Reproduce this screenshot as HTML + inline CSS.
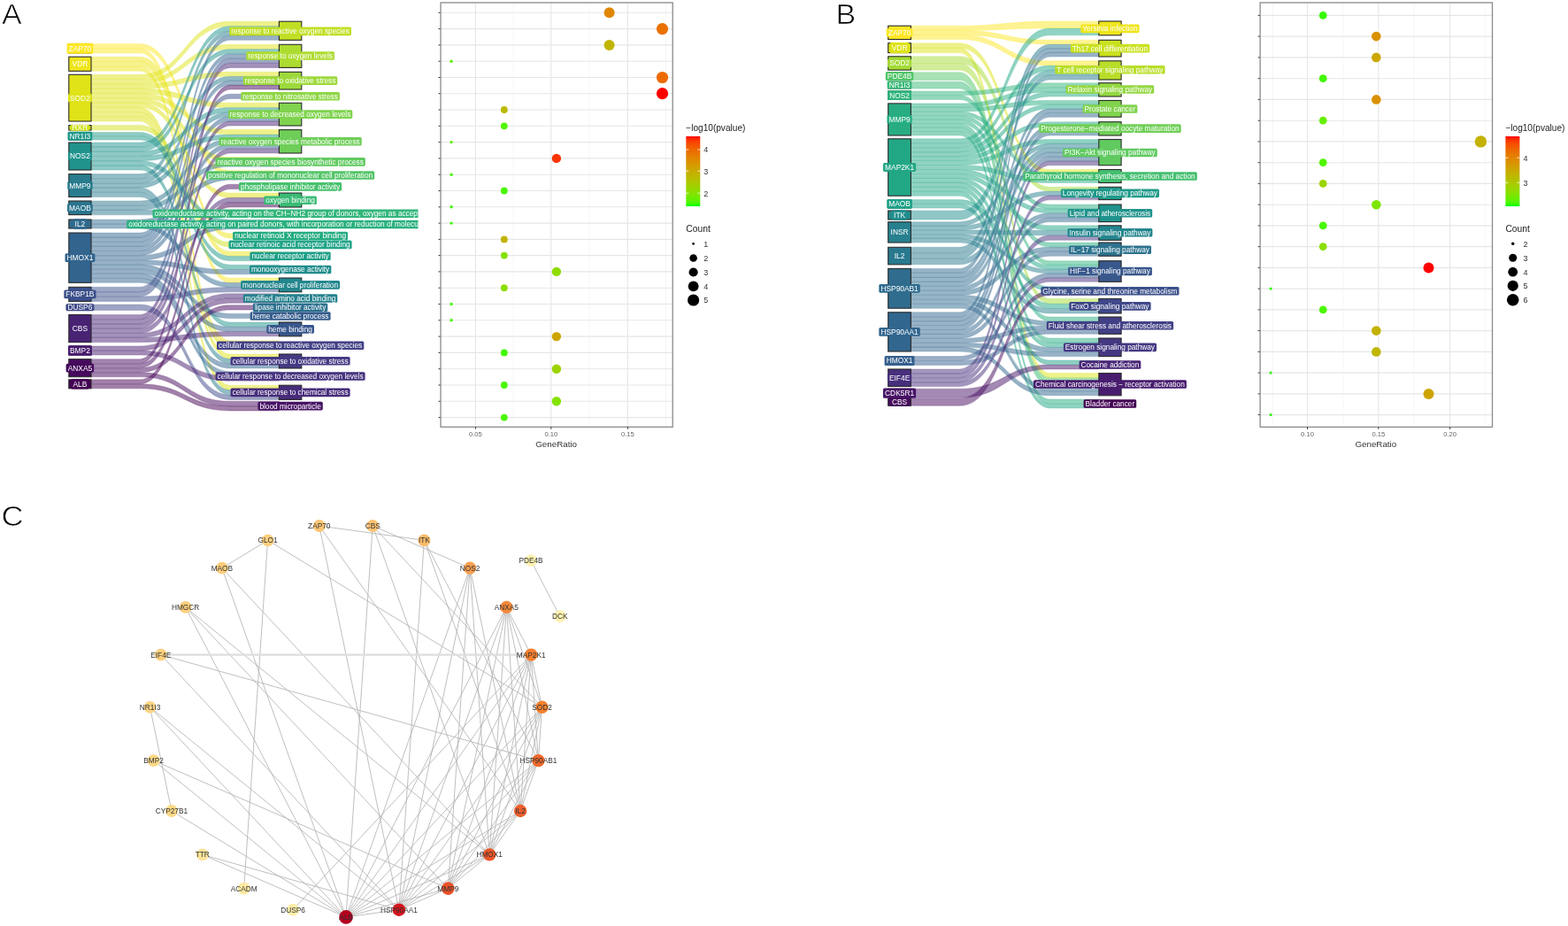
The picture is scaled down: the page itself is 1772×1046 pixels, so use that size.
<!DOCTYPE html><html><head><meta charset="utf-8"><style>html,body{margin:0;padding:0;background:#fff;overflow:hidden}svg{display:block}</style></head><body>
<svg width="1772" height="1046" viewBox="0 0 1772 1046" font-family="'Liberation Sans', Arial, sans-serif">
<rect width="1772" height="1046" fill="#fff"/>
<text transform="translate(2.0,27.0) scale(1.08,1)" font-size="31.5" fill="#000" stroke="#fff" stroke-width="0.7" paint-order="fill">A</text>
<text transform="translate(944.5,26.5) scale(1.08,1)" font-size="31.5" fill="#000" stroke="#fff" stroke-width="0.7" paint-order="fill">B</text>
<text transform="translate(1.6,593.9) scale(1.1,1)" font-size="31.5" fill="#000" stroke="#fff" stroke-width="0.7" paint-order="fill">C</text>
<g fill="none" stroke-opacity="0.28" stroke-width="1.1">
<path d="M103.0,49.50L158.2,49.50C209.2,49.50 209.2,192.70 260.2,192.70L315.4,192.70L315.4,198.00L260.2,198.00C209.2,198.00 209.2,54.75 158.2,54.75L103.0,54.75Z" stroke="#fde725"/>
<path d="M103.0,54.75L158.2,54.75C209.2,54.75 209.2,314.00 260.2,314.00L315.4,314.00L315.4,319.27L260.2,319.27C209.2,319.27 209.2,60.00 158.2,60.00L103.0,60.00Z" stroke="#fde725"/>
<path d="M103.0,64.20L158.2,64.20C209.2,64.20 209.2,263.90 260.2,263.90L315.4,263.90L315.4,269.10L260.2,269.10C209.2,269.10 209.2,69.57 158.2,69.57L103.0,69.57Z" stroke="#efe51c"/>
<path d="M103.0,69.57L158.2,69.57C209.2,69.57 209.2,284.00 260.2,284.00L315.4,284.00L315.4,289.30L260.2,289.30C209.2,289.30 209.2,74.93 158.2,74.93L103.0,74.93Z" stroke="#efe51c"/>
<path d="M103.0,74.93L158.2,74.93C209.2,74.93 209.2,384.90 260.2,384.90L315.4,384.90L315.4,390.20L260.2,390.20C209.2,390.20 209.2,80.30 158.2,80.30L103.0,80.30Z" stroke="#efe51c"/>
<path d="M103.0,84.30L158.2,84.30C209.2,84.30 209.2,24.20 260.2,24.20L315.4,24.20L315.4,29.47L260.2,29.47C209.2,29.47 209.2,89.57 158.2,89.57L103.0,89.57Z" stroke="#dfe318"/>
<path d="M103.0,89.57L158.2,89.57C209.2,89.57 209.2,50.30 260.2,50.30L315.4,50.30L315.4,55.52L260.2,55.52C209.2,55.52 209.2,94.84 158.2,94.84L103.0,94.84Z" stroke="#dfe318"/>
<path d="M103.0,94.84L158.2,94.84C209.2,94.84 209.2,81.30 260.2,81.30L315.4,81.30L315.4,86.22L260.2,86.22C209.2,86.22 209.2,100.11 158.2,100.11L103.0,100.11Z" stroke="#dfe318"/>
<path d="M103.0,100.11L158.2,100.11C209.2,100.11 209.2,116.30 260.2,116.30L315.4,116.30L315.4,121.44L260.2,121.44C209.2,121.44 209.2,105.38 158.2,105.38L103.0,105.38Z" stroke="#dfe318"/>
<path d="M103.0,105.38L158.2,105.38C209.2,105.38 209.2,146.60 260.2,146.60L315.4,146.60L315.4,151.88L260.2,151.88C209.2,151.88 209.2,110.65 158.2,110.65L103.0,110.65Z" stroke="#dfe318"/>
<path d="M103.0,110.65L158.2,110.65C209.2,110.65 209.2,177.60 260.2,177.60L315.4,177.60L315.4,182.90L260.2,182.90C209.2,182.90 209.2,115.92 158.2,115.92L103.0,115.92Z" stroke="#dfe318"/>
<path d="M103.0,115.92L158.2,115.92C209.2,115.92 209.2,218.00 260.2,218.00L315.4,218.00L315.4,223.33L260.2,223.33C209.2,223.33 209.2,121.19 158.2,121.19L103.0,121.19Z" stroke="#dfe318"/>
<path d="M103.0,121.19L158.2,121.19C209.2,121.19 209.2,390.20 260.2,390.20L315.4,390.20L315.4,395.50L260.2,395.50C209.2,395.50 209.2,126.46 158.2,126.46L103.0,126.46Z" stroke="#dfe318"/>
<path d="M103.0,126.46L158.2,126.46C209.2,126.46 209.2,400.00 260.2,400.00L315.4,400.00L315.4,405.33L260.2,405.33C209.2,405.33 209.2,131.73 158.2,131.73L103.0,131.73Z" stroke="#dfe318"/>
<path d="M103.0,131.73L158.2,131.73C209.2,131.73 209.2,435.20 260.2,435.20L315.4,435.20L315.4,440.60L260.2,440.60C209.2,440.60 209.2,137.00 158.2,137.00L103.0,137.00Z" stroke="#dfe318"/>
<path d="M103.0,141.50L158.2,141.50C209.2,141.50 209.2,273.80 260.2,273.80L315.4,273.80L315.4,279.00L260.2,279.00C209.2,279.00 209.2,147.00 158.2,147.00L103.0,147.00Z" stroke="#d0e11c"/>
<path d="M103.0,149.50L158.2,149.50C209.2,149.50 209.2,289.30 260.2,289.30L315.4,289.30L315.4,294.60L260.2,294.60C209.2,294.60 209.2,153.75 158.2,153.75L103.0,153.75Z" stroke="#1f998a"/>
<path d="M103.0,153.75L158.2,153.75C209.2,153.75 209.2,299.20 260.2,299.20L315.4,299.20L315.4,304.50L260.2,304.50C209.2,304.50 209.2,158.00 158.2,158.00L103.0,158.00Z" stroke="#1f998a"/>
<path d="M103.0,161.00L158.2,161.00C209.2,161.00 209.2,29.47 260.2,29.47L315.4,29.47L315.4,34.75L260.2,34.75C209.2,34.75 209.2,166.17 158.2,166.17L103.0,166.17Z" stroke="#20938c"/>
<path d="M103.0,166.17L158.2,166.17C209.2,166.17 209.2,55.52 260.2,55.52L315.4,55.52L315.4,60.74L260.2,60.74C209.2,60.74 209.2,171.33 158.2,171.33L103.0,171.33Z" stroke="#20938c"/>
<path d="M103.0,171.33L158.2,171.33C209.2,171.33 209.2,121.44 260.2,121.44L315.4,121.44L315.4,126.58L260.2,126.58C209.2,126.58 209.2,176.50 158.2,176.50L103.0,176.50Z" stroke="#20938c"/>
<path d="M103.0,176.50L158.2,176.50C209.2,176.50 209.2,151.88 260.2,151.88L315.4,151.88L315.4,157.16L260.2,157.16C209.2,157.16 209.2,181.67 158.2,181.67L103.0,181.67Z" stroke="#20938c"/>
<path d="M103.0,181.67L158.2,181.67C209.2,181.67 209.2,248.20 260.2,248.20L315.4,248.20L315.4,253.50L260.2,253.50C209.2,253.50 209.2,186.83 158.2,186.83L103.0,186.83Z" stroke="#20938c"/>
<path d="M103.0,186.83L158.2,186.83C209.2,186.83 209.2,364.00 260.2,364.00L315.4,364.00L315.4,369.27L260.2,369.27C209.2,369.27 209.2,192.00 158.2,192.00L103.0,192.00Z" stroke="#20938c"/>
<path d="M103.0,196.60L158.2,196.60C209.2,196.60 209.2,34.75 260.2,34.75L315.4,34.75L315.4,40.02L260.2,40.02C209.2,40.02 209.2,201.78 158.2,201.78L103.0,201.78Z" stroke="#287c8e"/>
<path d="M103.0,201.78L158.2,201.78C209.2,201.78 209.2,86.22 260.2,86.22L315.4,86.22L315.4,91.15L260.2,91.15C209.2,91.15 209.2,206.96 158.2,206.96L103.0,206.96Z" stroke="#287c8e"/>
<path d="M103.0,206.96L158.2,206.96C209.2,206.96 209.2,126.58 260.2,126.58L315.4,126.58L315.4,131.72L260.2,131.72C209.2,131.72 209.2,212.14 158.2,212.14L103.0,212.14Z" stroke="#287c8e"/>
<path d="M103.0,212.14L158.2,212.14C209.2,212.14 209.2,405.33 260.2,405.33L315.4,405.33L315.4,410.67L260.2,410.67C209.2,410.67 209.2,217.32 158.2,217.32L103.0,217.32Z" stroke="#287c8e"/>
<path d="M103.0,217.32L158.2,217.32C209.2,217.32 209.2,440.60 260.2,440.60L315.4,440.60L315.4,446.00L260.2,446.00C209.2,446.00 209.2,222.50 158.2,222.50L103.0,222.50Z" stroke="#287c8e"/>
<path d="M103.0,227.00L158.2,227.00C209.2,227.00 209.2,157.16 260.2,157.16L315.4,157.16L315.4,162.44L260.2,162.44C209.2,162.44 209.2,232.20 158.2,232.20L103.0,232.20Z" stroke="#2b758e"/>
<path d="M103.0,232.20L158.2,232.20C209.2,232.20 209.2,182.90 260.2,182.90L315.4,182.90L315.4,188.20L260.2,188.20C209.2,188.20 209.2,237.40 158.2,237.40L103.0,237.40Z" stroke="#2b758e"/>
<path d="M103.0,237.40L158.2,237.40C209.2,237.40 209.2,238.60 260.2,238.60L315.4,238.60L315.4,243.80L260.2,243.80C209.2,243.80 209.2,242.60 158.2,242.60L103.0,242.60Z" stroke="#2b758e"/>
<path d="M103.0,248.00L158.2,248.00C209.2,248.00 209.2,198.00 260.2,198.00L315.4,198.00L315.4,203.30L260.2,203.30C209.2,203.30 209.2,253.00 158.2,253.00L103.0,253.00Z" stroke="#306a8e"/>
<path d="M103.0,253.00L158.2,253.00C209.2,253.00 209.2,319.27 260.2,319.27L315.4,319.27L315.4,324.53L260.2,324.53C209.2,324.53 209.2,258.00 158.2,258.00L103.0,258.00Z" stroke="#306a8e"/>
<path d="M103.0,263.00L158.2,263.00C209.2,263.00 209.2,40.02 260.2,40.02L315.4,40.02L315.4,45.30L260.2,45.30C209.2,45.30 209.2,268.12 158.2,268.12L103.0,268.12Z" stroke="#32648e"/>
<path d="M103.0,268.12L158.2,268.12C209.2,268.12 209.2,60.74 260.2,60.74L315.4,60.74L315.4,65.96L260.2,65.96C209.2,65.96 209.2,273.24 158.2,273.24L103.0,273.24Z" stroke="#32648e"/>
<path d="M103.0,273.24L158.2,273.24C209.2,273.24 209.2,91.15 260.2,91.15L315.4,91.15L315.4,96.08L260.2,96.08C209.2,96.08 209.2,278.35 158.2,278.35L103.0,278.35Z" stroke="#32648e"/>
<path d="M103.0,278.35L158.2,278.35C209.2,278.35 209.2,131.72 260.2,131.72L315.4,131.72L315.4,136.86L260.2,136.86C209.2,136.86 209.2,283.47 158.2,283.47L103.0,283.47Z" stroke="#32648e"/>
<path d="M103.0,283.47L158.2,283.47C209.2,283.47 209.2,162.44 260.2,162.44L315.4,162.44L315.4,167.72L260.2,167.72C209.2,167.72 209.2,288.59 158.2,288.59L103.0,288.59Z" stroke="#32648e"/>
<path d="M103.0,288.59L158.2,288.59C209.2,288.59 209.2,253.50 260.2,253.50L315.4,253.50L315.4,258.80L260.2,258.80C209.2,258.80 209.2,293.71 158.2,293.71L103.0,293.71Z" stroke="#32648e"/>
<path d="M103.0,293.71L158.2,293.71C209.2,293.71 209.2,304.50 260.2,304.50L315.4,304.50L315.4,309.80L260.2,309.80C209.2,309.80 209.2,298.83 158.2,298.83L103.0,298.83Z" stroke="#32648e"/>
<path d="M103.0,298.83L158.2,298.83C209.2,298.83 209.2,354.40 260.2,354.40L315.4,354.40L315.4,359.60L260.2,359.60C209.2,359.60 209.2,303.95 158.2,303.95L103.0,303.95Z" stroke="#32648e"/>
<path d="M103.0,303.95L158.2,303.95C209.2,303.95 209.2,369.27 260.2,369.27L315.4,369.27L315.4,374.53L260.2,374.53C209.2,374.53 209.2,309.06 158.2,309.06L103.0,309.06Z" stroke="#32648e"/>
<path d="M103.0,309.06L158.2,309.06C209.2,309.06 209.2,410.67 260.2,410.67L315.4,410.67L315.4,416.00L260.2,416.00C209.2,416.00 209.2,314.18 158.2,314.18L103.0,314.18Z" stroke="#32648e"/>
<path d="M103.0,314.18L158.2,314.18C209.2,314.18 209.2,419.70 260.2,419.70L315.4,419.70L315.4,425.00L260.2,425.00C209.2,425.00 209.2,319.30 158.2,319.30L103.0,319.30Z" stroke="#32648e"/>
<path d="M103.0,324.30L158.2,324.30C209.2,324.30 209.2,65.96 260.2,65.96L315.4,65.96L315.4,71.18L260.2,71.18C209.2,71.18 209.2,329.67 158.2,329.67L103.0,329.67Z" stroke="#3c508b"/>
<path d="M103.0,329.67L158.2,329.67C209.2,329.67 209.2,106.20 260.2,106.20L315.4,106.20L315.4,111.40L260.2,111.40C209.2,111.40 209.2,335.03 158.2,335.03L103.0,335.03Z" stroke="#3c508b"/>
<path d="M103.0,335.03L158.2,335.03C209.2,335.03 209.2,324.53 260.2,324.53L315.4,324.53L315.4,329.80L260.2,329.80C209.2,329.80 209.2,340.40 158.2,340.40L103.0,340.40Z" stroke="#3c508b"/>
<path d="M103.0,344.00L158.2,344.00C209.2,344.00 209.2,446.00 260.2,446.00L315.4,446.00L315.4,451.40L260.2,451.40C209.2,451.40 209.2,350.50 158.2,350.50L103.0,350.50Z" stroke="#3e4989"/>
<path d="M103.0,355.50L158.2,355.50C209.2,355.50 209.2,71.18 260.2,71.18L315.4,71.18L315.4,76.40L260.2,76.40C209.2,76.40 209.2,360.68 158.2,360.68L103.0,360.68Z" stroke="#482374"/>
<path d="M103.0,360.68L158.2,360.68C209.2,360.68 209.2,136.86 260.2,136.86L315.4,136.86L315.4,142.00L260.2,142.00C209.2,142.00 209.2,365.87 158.2,365.87L103.0,365.87Z" stroke="#482374"/>
<path d="M103.0,365.87L158.2,365.87C209.2,365.87 209.2,167.72 260.2,167.72L315.4,167.72L315.4,173.00L260.2,173.00C209.2,173.00 209.2,371.05 158.2,371.05L103.0,371.05Z" stroke="#482374"/>
<path d="M103.0,371.05L158.2,371.05C209.2,371.05 209.2,223.33 260.2,223.33L315.4,223.33L315.4,228.67L260.2,228.67C209.2,228.67 209.2,376.23 158.2,376.23L103.0,376.23Z" stroke="#482374"/>
<path d="M103.0,376.23L158.2,376.23C209.2,376.23 209.2,331.70 260.2,331.70L315.4,331.70L315.4,337.00L260.2,337.00C209.2,337.00 209.2,381.42 158.2,381.42L103.0,381.42Z" stroke="#482374"/>
<path d="M103.0,381.42L158.2,381.42C209.2,381.42 209.2,374.53 260.2,374.53L315.4,374.53L315.4,379.80L260.2,379.80C209.2,379.80 209.2,386.60 158.2,386.60L103.0,386.60Z" stroke="#482374"/>
<path d="M103.0,391.00L158.2,391.00C209.2,391.00 209.2,337.00 260.2,337.00L315.4,337.00L315.4,342.30L260.2,342.30C209.2,342.30 209.2,396.00 158.2,396.00L103.0,396.00Z" stroke="#481b6d"/>
<path d="M103.0,396.00L158.2,396.00C209.2,396.00 209.2,425.00 260.2,425.00L315.4,425.00L315.4,430.30L260.2,430.30C209.2,430.30 209.2,401.00 158.2,401.00L103.0,401.00Z" stroke="#481b6d"/>
<path d="M103.0,405.70L158.2,405.70C209.2,405.70 209.2,96.08 260.2,96.08L315.4,96.08L315.4,101.00L260.2,101.00C209.2,101.00 209.2,410.70 158.2,410.70L103.0,410.70Z" stroke="#460a5d"/>
<path d="M103.0,410.70L158.2,410.70C209.2,410.70 209.2,208.30 260.2,208.30L315.4,208.30L315.4,213.50L260.2,213.50C209.2,213.50 209.2,415.70 158.2,415.70L103.0,415.70Z" stroke="#460a5d"/>
<path d="M103.0,415.70L158.2,415.70C209.2,415.70 209.2,344.70 260.2,344.70L315.4,344.70L315.4,349.90L260.2,349.90C209.2,349.90 209.2,420.70 158.2,420.70L103.0,420.70Z" stroke="#460a5d"/>
<path d="M103.0,420.70L158.2,420.70C209.2,420.70 209.2,453.30 260.2,453.30L315.4,453.30L315.4,458.60L260.2,458.60C209.2,458.60 209.2,425.70 158.2,425.70L103.0,425.70Z" stroke="#460a5d"/>
<path d="M103.0,428.80L158.2,428.80C209.2,428.80 209.2,228.67 260.2,228.67L315.4,228.67L315.4,234.00L260.2,234.00C209.2,234.00 209.2,433.80 158.2,433.80L103.0,433.80Z" stroke="#440154"/>
<path d="M103.0,433.80L158.2,433.80C209.2,433.80 209.2,458.60 260.2,458.60L315.4,458.60L315.4,463.90L260.2,463.90C209.2,463.90 209.2,438.80 158.2,438.80L103.0,438.80Z" stroke="#440154"/>
</g><g stroke="#fff" stroke-opacity="0.3" stroke-width="0.35">
<path d="M103.0,49.50L158.2,49.50C209.2,49.50 209.2,192.70 260.2,192.70L315.4,192.70L315.4,198.00L260.2,198.00C209.2,198.00 209.2,54.75 158.2,54.75L103.0,54.75Z" fill="#fde725" fill-opacity="0.5"/>
<path d="M103.0,54.75L158.2,54.75C209.2,54.75 209.2,314.00 260.2,314.00L315.4,314.00L315.4,319.27L260.2,319.27C209.2,319.27 209.2,60.00 158.2,60.00L103.0,60.00Z" fill="#fde725" fill-opacity="0.5"/>
<path d="M103.0,64.20L158.2,64.20C209.2,64.20 209.2,263.90 260.2,263.90L315.4,263.90L315.4,269.10L260.2,269.10C209.2,269.10 209.2,69.57 158.2,69.57L103.0,69.57Z" fill="#efe51c" fill-opacity="0.5"/>
<path d="M103.0,69.57L158.2,69.57C209.2,69.57 209.2,284.00 260.2,284.00L315.4,284.00L315.4,289.30L260.2,289.30C209.2,289.30 209.2,74.93 158.2,74.93L103.0,74.93Z" fill="#efe51c" fill-opacity="0.5"/>
<path d="M103.0,74.93L158.2,74.93C209.2,74.93 209.2,384.90 260.2,384.90L315.4,384.90L315.4,390.20L260.2,390.20C209.2,390.20 209.2,80.30 158.2,80.30L103.0,80.30Z" fill="#efe51c" fill-opacity="0.5"/>
<path d="M103.0,84.30L158.2,84.30C209.2,84.30 209.2,24.20 260.2,24.20L315.4,24.20L315.4,29.47L260.2,29.47C209.2,29.47 209.2,89.57 158.2,89.57L103.0,89.57Z" fill="#dfe318" fill-opacity="0.5"/>
<path d="M103.0,89.57L158.2,89.57C209.2,89.57 209.2,50.30 260.2,50.30L315.4,50.30L315.4,55.52L260.2,55.52C209.2,55.52 209.2,94.84 158.2,94.84L103.0,94.84Z" fill="#dfe318" fill-opacity="0.5"/>
<path d="M103.0,94.84L158.2,94.84C209.2,94.84 209.2,81.30 260.2,81.30L315.4,81.30L315.4,86.22L260.2,86.22C209.2,86.22 209.2,100.11 158.2,100.11L103.0,100.11Z" fill="#dfe318" fill-opacity="0.5"/>
<path d="M103.0,100.11L158.2,100.11C209.2,100.11 209.2,116.30 260.2,116.30L315.4,116.30L315.4,121.44L260.2,121.44C209.2,121.44 209.2,105.38 158.2,105.38L103.0,105.38Z" fill="#dfe318" fill-opacity="0.5"/>
<path d="M103.0,105.38L158.2,105.38C209.2,105.38 209.2,146.60 260.2,146.60L315.4,146.60L315.4,151.88L260.2,151.88C209.2,151.88 209.2,110.65 158.2,110.65L103.0,110.65Z" fill="#dfe318" fill-opacity="0.5"/>
<path d="M103.0,110.65L158.2,110.65C209.2,110.65 209.2,177.60 260.2,177.60L315.4,177.60L315.4,182.90L260.2,182.90C209.2,182.90 209.2,115.92 158.2,115.92L103.0,115.92Z" fill="#dfe318" fill-opacity="0.5"/>
<path d="M103.0,115.92L158.2,115.92C209.2,115.92 209.2,218.00 260.2,218.00L315.4,218.00L315.4,223.33L260.2,223.33C209.2,223.33 209.2,121.19 158.2,121.19L103.0,121.19Z" fill="#dfe318" fill-opacity="0.5"/>
<path d="M103.0,121.19L158.2,121.19C209.2,121.19 209.2,390.20 260.2,390.20L315.4,390.20L315.4,395.50L260.2,395.50C209.2,395.50 209.2,126.46 158.2,126.46L103.0,126.46Z" fill="#dfe318" fill-opacity="0.5"/>
<path d="M103.0,126.46L158.2,126.46C209.2,126.46 209.2,400.00 260.2,400.00L315.4,400.00L315.4,405.33L260.2,405.33C209.2,405.33 209.2,131.73 158.2,131.73L103.0,131.73Z" fill="#dfe318" fill-opacity="0.5"/>
<path d="M103.0,131.73L158.2,131.73C209.2,131.73 209.2,435.20 260.2,435.20L315.4,435.20L315.4,440.60L260.2,440.60C209.2,440.60 209.2,137.00 158.2,137.00L103.0,137.00Z" fill="#dfe318" fill-opacity="0.5"/>
<path d="M103.0,141.50L158.2,141.50C209.2,141.50 209.2,273.80 260.2,273.80L315.4,273.80L315.4,279.00L260.2,279.00C209.2,279.00 209.2,147.00 158.2,147.00L103.0,147.00Z" fill="#d0e11c" fill-opacity="0.5"/>
<path d="M103.0,149.50L158.2,149.50C209.2,149.50 209.2,289.30 260.2,289.30L315.4,289.30L315.4,294.60L260.2,294.60C209.2,294.60 209.2,153.75 158.2,153.75L103.0,153.75Z" fill="#1f998a" fill-opacity="0.5"/>
<path d="M103.0,153.75L158.2,153.75C209.2,153.75 209.2,299.20 260.2,299.20L315.4,299.20L315.4,304.50L260.2,304.50C209.2,304.50 209.2,158.00 158.2,158.00L103.0,158.00Z" fill="#1f998a" fill-opacity="0.5"/>
<path d="M103.0,161.00L158.2,161.00C209.2,161.00 209.2,29.47 260.2,29.47L315.4,29.47L315.4,34.75L260.2,34.75C209.2,34.75 209.2,166.17 158.2,166.17L103.0,166.17Z" fill="#20938c" fill-opacity="0.5"/>
<path d="M103.0,166.17L158.2,166.17C209.2,166.17 209.2,55.52 260.2,55.52L315.4,55.52L315.4,60.74L260.2,60.74C209.2,60.74 209.2,171.33 158.2,171.33L103.0,171.33Z" fill="#20938c" fill-opacity="0.5"/>
<path d="M103.0,171.33L158.2,171.33C209.2,171.33 209.2,121.44 260.2,121.44L315.4,121.44L315.4,126.58L260.2,126.58C209.2,126.58 209.2,176.50 158.2,176.50L103.0,176.50Z" fill="#20938c" fill-opacity="0.5"/>
<path d="M103.0,176.50L158.2,176.50C209.2,176.50 209.2,151.88 260.2,151.88L315.4,151.88L315.4,157.16L260.2,157.16C209.2,157.16 209.2,181.67 158.2,181.67L103.0,181.67Z" fill="#20938c" fill-opacity="0.5"/>
<path d="M103.0,181.67L158.2,181.67C209.2,181.67 209.2,248.20 260.2,248.20L315.4,248.20L315.4,253.50L260.2,253.50C209.2,253.50 209.2,186.83 158.2,186.83L103.0,186.83Z" fill="#20938c" fill-opacity="0.5"/>
<path d="M103.0,186.83L158.2,186.83C209.2,186.83 209.2,364.00 260.2,364.00L315.4,364.00L315.4,369.27L260.2,369.27C209.2,369.27 209.2,192.00 158.2,192.00L103.0,192.00Z" fill="#20938c" fill-opacity="0.5"/>
<path d="M103.0,196.60L158.2,196.60C209.2,196.60 209.2,34.75 260.2,34.75L315.4,34.75L315.4,40.02L260.2,40.02C209.2,40.02 209.2,201.78 158.2,201.78L103.0,201.78Z" fill="#287c8e" fill-opacity="0.5"/>
<path d="M103.0,201.78L158.2,201.78C209.2,201.78 209.2,86.22 260.2,86.22L315.4,86.22L315.4,91.15L260.2,91.15C209.2,91.15 209.2,206.96 158.2,206.96L103.0,206.96Z" fill="#287c8e" fill-opacity="0.5"/>
<path d="M103.0,206.96L158.2,206.96C209.2,206.96 209.2,126.58 260.2,126.58L315.4,126.58L315.4,131.72L260.2,131.72C209.2,131.72 209.2,212.14 158.2,212.14L103.0,212.14Z" fill="#287c8e" fill-opacity="0.5"/>
<path d="M103.0,212.14L158.2,212.14C209.2,212.14 209.2,405.33 260.2,405.33L315.4,405.33L315.4,410.67L260.2,410.67C209.2,410.67 209.2,217.32 158.2,217.32L103.0,217.32Z" fill="#287c8e" fill-opacity="0.5"/>
<path d="M103.0,217.32L158.2,217.32C209.2,217.32 209.2,440.60 260.2,440.60L315.4,440.60L315.4,446.00L260.2,446.00C209.2,446.00 209.2,222.50 158.2,222.50L103.0,222.50Z" fill="#287c8e" fill-opacity="0.5"/>
<path d="M103.0,227.00L158.2,227.00C209.2,227.00 209.2,157.16 260.2,157.16L315.4,157.16L315.4,162.44L260.2,162.44C209.2,162.44 209.2,232.20 158.2,232.20L103.0,232.20Z" fill="#2b758e" fill-opacity="0.5"/>
<path d="M103.0,232.20L158.2,232.20C209.2,232.20 209.2,182.90 260.2,182.90L315.4,182.90L315.4,188.20L260.2,188.20C209.2,188.20 209.2,237.40 158.2,237.40L103.0,237.40Z" fill="#2b758e" fill-opacity="0.5"/>
<path d="M103.0,237.40L158.2,237.40C209.2,237.40 209.2,238.60 260.2,238.60L315.4,238.60L315.4,243.80L260.2,243.80C209.2,243.80 209.2,242.60 158.2,242.60L103.0,242.60Z" fill="#2b758e" fill-opacity="0.5"/>
<path d="M103.0,248.00L158.2,248.00C209.2,248.00 209.2,198.00 260.2,198.00L315.4,198.00L315.4,203.30L260.2,203.30C209.2,203.30 209.2,253.00 158.2,253.00L103.0,253.00Z" fill="#306a8e" fill-opacity="0.5"/>
<path d="M103.0,253.00L158.2,253.00C209.2,253.00 209.2,319.27 260.2,319.27L315.4,319.27L315.4,324.53L260.2,324.53C209.2,324.53 209.2,258.00 158.2,258.00L103.0,258.00Z" fill="#306a8e" fill-opacity="0.5"/>
<path d="M103.0,263.00L158.2,263.00C209.2,263.00 209.2,40.02 260.2,40.02L315.4,40.02L315.4,45.30L260.2,45.30C209.2,45.30 209.2,268.12 158.2,268.12L103.0,268.12Z" fill="#32648e" fill-opacity="0.5"/>
<path d="M103.0,268.12L158.2,268.12C209.2,268.12 209.2,60.74 260.2,60.74L315.4,60.74L315.4,65.96L260.2,65.96C209.2,65.96 209.2,273.24 158.2,273.24L103.0,273.24Z" fill="#32648e" fill-opacity="0.5"/>
<path d="M103.0,273.24L158.2,273.24C209.2,273.24 209.2,91.15 260.2,91.15L315.4,91.15L315.4,96.08L260.2,96.08C209.2,96.08 209.2,278.35 158.2,278.35L103.0,278.35Z" fill="#32648e" fill-opacity="0.5"/>
<path d="M103.0,278.35L158.2,278.35C209.2,278.35 209.2,131.72 260.2,131.72L315.4,131.72L315.4,136.86L260.2,136.86C209.2,136.86 209.2,283.47 158.2,283.47L103.0,283.47Z" fill="#32648e" fill-opacity="0.5"/>
<path d="M103.0,283.47L158.2,283.47C209.2,283.47 209.2,162.44 260.2,162.44L315.4,162.44L315.4,167.72L260.2,167.72C209.2,167.72 209.2,288.59 158.2,288.59L103.0,288.59Z" fill="#32648e" fill-opacity="0.5"/>
<path d="M103.0,288.59L158.2,288.59C209.2,288.59 209.2,253.50 260.2,253.50L315.4,253.50L315.4,258.80L260.2,258.80C209.2,258.80 209.2,293.71 158.2,293.71L103.0,293.71Z" fill="#32648e" fill-opacity="0.5"/>
<path d="M103.0,293.71L158.2,293.71C209.2,293.71 209.2,304.50 260.2,304.50L315.4,304.50L315.4,309.80L260.2,309.80C209.2,309.80 209.2,298.83 158.2,298.83L103.0,298.83Z" fill="#32648e" fill-opacity="0.5"/>
<path d="M103.0,298.83L158.2,298.83C209.2,298.83 209.2,354.40 260.2,354.40L315.4,354.40L315.4,359.60L260.2,359.60C209.2,359.60 209.2,303.95 158.2,303.95L103.0,303.95Z" fill="#32648e" fill-opacity="0.5"/>
<path d="M103.0,303.95L158.2,303.95C209.2,303.95 209.2,369.27 260.2,369.27L315.4,369.27L315.4,374.53L260.2,374.53C209.2,374.53 209.2,309.06 158.2,309.06L103.0,309.06Z" fill="#32648e" fill-opacity="0.5"/>
<path d="M103.0,309.06L158.2,309.06C209.2,309.06 209.2,410.67 260.2,410.67L315.4,410.67L315.4,416.00L260.2,416.00C209.2,416.00 209.2,314.18 158.2,314.18L103.0,314.18Z" fill="#32648e" fill-opacity="0.5"/>
<path d="M103.0,314.18L158.2,314.18C209.2,314.18 209.2,419.70 260.2,419.70L315.4,419.70L315.4,425.00L260.2,425.00C209.2,425.00 209.2,319.30 158.2,319.30L103.0,319.30Z" fill="#32648e" fill-opacity="0.5"/>
<path d="M103.0,324.30L158.2,324.30C209.2,324.30 209.2,65.96 260.2,65.96L315.4,65.96L315.4,71.18L260.2,71.18C209.2,71.18 209.2,329.67 158.2,329.67L103.0,329.67Z" fill="#3c508b" fill-opacity="0.5"/>
<path d="M103.0,329.67L158.2,329.67C209.2,329.67 209.2,106.20 260.2,106.20L315.4,106.20L315.4,111.40L260.2,111.40C209.2,111.40 209.2,335.03 158.2,335.03L103.0,335.03Z" fill="#3c508b" fill-opacity="0.5"/>
<path d="M103.0,335.03L158.2,335.03C209.2,335.03 209.2,324.53 260.2,324.53L315.4,324.53L315.4,329.80L260.2,329.80C209.2,329.80 209.2,340.40 158.2,340.40L103.0,340.40Z" fill="#3c508b" fill-opacity="0.5"/>
<path d="M103.0,344.00L158.2,344.00C209.2,344.00 209.2,446.00 260.2,446.00L315.4,446.00L315.4,451.40L260.2,451.40C209.2,451.40 209.2,350.50 158.2,350.50L103.0,350.50Z" fill="#3e4989" fill-opacity="0.5"/>
<path d="M103.0,355.50L158.2,355.50C209.2,355.50 209.2,71.18 260.2,71.18L315.4,71.18L315.4,76.40L260.2,76.40C209.2,76.40 209.2,360.68 158.2,360.68L103.0,360.68Z" fill="#482374" fill-opacity="0.5"/>
<path d="M103.0,360.68L158.2,360.68C209.2,360.68 209.2,136.86 260.2,136.86L315.4,136.86L315.4,142.00L260.2,142.00C209.2,142.00 209.2,365.87 158.2,365.87L103.0,365.87Z" fill="#482374" fill-opacity="0.5"/>
<path d="M103.0,365.87L158.2,365.87C209.2,365.87 209.2,167.72 260.2,167.72L315.4,167.72L315.4,173.00L260.2,173.00C209.2,173.00 209.2,371.05 158.2,371.05L103.0,371.05Z" fill="#482374" fill-opacity="0.5"/>
<path d="M103.0,371.05L158.2,371.05C209.2,371.05 209.2,223.33 260.2,223.33L315.4,223.33L315.4,228.67L260.2,228.67C209.2,228.67 209.2,376.23 158.2,376.23L103.0,376.23Z" fill="#482374" fill-opacity="0.5"/>
<path d="M103.0,376.23L158.2,376.23C209.2,376.23 209.2,331.70 260.2,331.70L315.4,331.70L315.4,337.00L260.2,337.00C209.2,337.00 209.2,381.42 158.2,381.42L103.0,381.42Z" fill="#482374" fill-opacity="0.5"/>
<path d="M103.0,381.42L158.2,381.42C209.2,381.42 209.2,374.53 260.2,374.53L315.4,374.53L315.4,379.80L260.2,379.80C209.2,379.80 209.2,386.60 158.2,386.60L103.0,386.60Z" fill="#482374" fill-opacity="0.5"/>
<path d="M103.0,391.00L158.2,391.00C209.2,391.00 209.2,337.00 260.2,337.00L315.4,337.00L315.4,342.30L260.2,342.30C209.2,342.30 209.2,396.00 158.2,396.00L103.0,396.00Z" fill="#481b6d" fill-opacity="0.5"/>
<path d="M103.0,396.00L158.2,396.00C209.2,396.00 209.2,425.00 260.2,425.00L315.4,425.00L315.4,430.30L260.2,430.30C209.2,430.30 209.2,401.00 158.2,401.00L103.0,401.00Z" fill="#481b6d" fill-opacity="0.5"/>
<path d="M103.0,405.70L158.2,405.70C209.2,405.70 209.2,96.08 260.2,96.08L315.4,96.08L315.4,101.00L260.2,101.00C209.2,101.00 209.2,410.70 158.2,410.70L103.0,410.70Z" fill="#460a5d" fill-opacity="0.5"/>
<path d="M103.0,410.70L158.2,410.70C209.2,410.70 209.2,208.30 260.2,208.30L315.4,208.30L315.4,213.50L260.2,213.50C209.2,213.50 209.2,415.70 158.2,415.70L103.0,415.70Z" fill="#460a5d" fill-opacity="0.5"/>
<path d="M103.0,415.70L158.2,415.70C209.2,415.70 209.2,344.70 260.2,344.70L315.4,344.70L315.4,349.90L260.2,349.90C209.2,349.90 209.2,420.70 158.2,420.70L103.0,420.70Z" fill="#460a5d" fill-opacity="0.5"/>
<path d="M103.0,420.70L158.2,420.70C209.2,420.70 209.2,453.30 260.2,453.30L315.4,453.30L315.4,458.60L260.2,458.60C209.2,458.60 209.2,425.70 158.2,425.70L103.0,425.70Z" fill="#460a5d" fill-opacity="0.5"/>
<path d="M103.0,428.80L158.2,428.80C209.2,428.80 209.2,228.67 260.2,228.67L315.4,228.67L315.4,234.00L260.2,234.00C209.2,234.00 209.2,433.80 158.2,433.80L103.0,433.80Z" fill="#440154" fill-opacity="0.5"/>
<path d="M103.0,433.80L158.2,433.80C209.2,433.80 209.2,458.60 260.2,458.60L315.4,458.60L315.4,463.90L260.2,463.90C209.2,463.90 209.2,438.80 158.2,438.80L103.0,438.80Z" fill="#440154" fill-opacity="0.5"/>
</g>
<rect x="77.8" y="49.5" width="25.200000000000003" height="10.5" fill="#fde725" stroke="#2b2b2b" stroke-width="1.1"/>
<rect x="77.8" y="64.2" width="25.200000000000003" height="16.1" fill="#efe51c" stroke="#2b2b2b" stroke-width="1.1"/>
<rect x="77.8" y="84.3" width="25.200000000000003" height="52.7" fill="#dfe318" stroke="#2b2b2b" stroke-width="1.1"/>
<rect x="77.8" y="141.5" width="25.200000000000003" height="5.5" fill="#d0e11c" stroke="#2b2b2b" stroke-width="1.1"/>
<rect x="77.8" y="149.5" width="25.200000000000003" height="8.5" fill="#1f998a" stroke="#2b2b2b" stroke-width="1.1"/>
<rect x="77.8" y="161.0" width="25.200000000000003" height="31.0" fill="#20938c" stroke="#2b2b2b" stroke-width="1.1"/>
<rect x="77.8" y="196.6" width="25.200000000000003" height="25.9" fill="#287c8e" stroke="#2b2b2b" stroke-width="1.1"/>
<rect x="77.8" y="227.0" width="25.200000000000003" height="15.6" fill="#2b758e" stroke="#2b2b2b" stroke-width="1.1"/>
<rect x="77.8" y="248.0" width="25.200000000000003" height="10.0" fill="#306a8e" stroke="#2b2b2b" stroke-width="1.1"/>
<rect x="77.8" y="263.0" width="25.200000000000003" height="56.3" fill="#32648e" stroke="#2b2b2b" stroke-width="1.1"/>
<rect x="77.8" y="324.3" width="25.200000000000003" height="16.1" fill="#3c508b" stroke="#2b2b2b" stroke-width="1.1"/>
<rect x="77.8" y="344.0" width="25.200000000000003" height="6.5" fill="#3e4989" stroke="#2b2b2b" stroke-width="1.1"/>
<rect x="77.8" y="355.5" width="25.200000000000003" height="31.1" fill="#482374" stroke="#2b2b2b" stroke-width="1.1"/>
<rect x="77.8" y="391.0" width="25.200000000000003" height="10.0" fill="#481b6d" stroke="#2b2b2b" stroke-width="1.1"/>
<rect x="77.8" y="405.7" width="25.200000000000003" height="20.0" fill="#460a5d" stroke="#2b2b2b" stroke-width="1.1"/>
<rect x="77.8" y="428.8" width="25.200000000000003" height="10.0" fill="#440154" stroke="#2b2b2b" stroke-width="1.1"/>
<rect x="315.4" y="24.2" width="25.400000000000034" height="21.1" fill="#c0df25" stroke="#2b2b2b" stroke-width="1.1"/>
<rect x="315.4" y="50.3" width="25.400000000000034" height="26.1" fill="#addc30" stroke="#2b2b2b" stroke-width="1.1"/>
<rect x="315.4" y="81.3" width="25.400000000000034" height="19.7" fill="#9dd93b" stroke="#2b2b2b" stroke-width="1.1"/>
<rect x="315.4" y="105.2" width="25.400000000000034" height="7.2" fill="#8ed645" stroke="#2b2b2b" stroke-width="1.1"/>
<rect x="315.4" y="116.3" width="25.400000000000034" height="25.7" fill="#7fd34e" stroke="#2b2b2b" stroke-width="1.1"/>
<rect x="315.4" y="146.6" width="25.400000000000034" height="26.4" fill="#6ece58" stroke="#2b2b2b" stroke-width="1.1"/>
<rect x="315.4" y="179.3" width="25.400000000000034" height="7.2" fill="#60ca60" stroke="#2b2b2b" stroke-width="1.1"/>
<rect x="315.4" y="194.4" width="25.400000000000034" height="7.2" fill="#54c568" stroke="#2b2b2b" stroke-width="1.1"/>
<rect x="315.4" y="207.3" width="25.400000000000034" height="7.2" fill="#48c16e" stroke="#2b2b2b" stroke-width="1.1"/>
<rect x="315.4" y="218.0" width="25.400000000000034" height="16.0" fill="#3bbb75" stroke="#2b2b2b" stroke-width="1.1"/>
<rect x="315.4" y="237.6" width="25.400000000000034" height="7.2" fill="#32b67a" stroke="#2b2b2b" stroke-width="1.1"/>
<rect x="315.4" y="249.9" width="25.400000000000034" height="7.2" fill="#2ab07f" stroke="#2b2b2b" stroke-width="1.1"/>
<rect x="315.4" y="262.9" width="25.400000000000034" height="7.2" fill="#25ab82" stroke="#2b2b2b" stroke-width="1.1"/>
<rect x="315.4" y="272.8" width="25.400000000000034" height="7.2" fill="#20a486" stroke="#2b2b2b" stroke-width="1.1"/>
<rect x="315.4" y="285.7" width="25.400000000000034" height="7.2" fill="#1f9f88" stroke="#2b2b2b" stroke-width="1.1"/>
<rect x="315.4" y="300.9" width="25.400000000000034" height="7.2" fill="#228d8d" stroke="#2b2b2b" stroke-width="1.1"/>
<rect x="315.4" y="314.0" width="25.400000000000034" height="15.8" fill="#24878e" stroke="#2b2b2b" stroke-width="1.1"/>
<rect x="315.4" y="333.4" width="25.400000000000034" height="7.2" fill="#26828e" stroke="#2b2b2b" stroke-width="1.1"/>
<rect x="315.4" y="343.7" width="25.400000000000034" height="7.2" fill="#2d708e" stroke="#2b2b2b" stroke-width="1.1"/>
<rect x="315.4" y="353.4" width="25.400000000000034" height="7.2" fill="#365d8d" stroke="#2b2b2b" stroke-width="1.1"/>
<rect x="315.4" y="364.0" width="25.400000000000034" height="15.8" fill="#39568c" stroke="#2b2b2b" stroke-width="1.1"/>
<rect x="315.4" y="386.6" width="25.400000000000034" height="7.2" fill="#424186" stroke="#2b2b2b" stroke-width="1.1"/>
<rect x="315.4" y="400.0" width="25.400000000000034" height="16.0" fill="#443a83" stroke="#2b2b2b" stroke-width="1.1"/>
<rect x="315.4" y="421.4" width="25.400000000000034" height="7.2" fill="#46337f" stroke="#2b2b2b" stroke-width="1.1"/>
<rect x="315.4" y="435.2" width="25.400000000000034" height="16.2" fill="#472c7a" stroke="#2b2b2b" stroke-width="1.1"/>
<rect x="315.4" y="455.0" width="25.400000000000034" height="7.2" fill="#471365" stroke="#2b2b2b" stroke-width="1.1"/>
<rect x="75.6" y="48.8" width="29.7" height="11.9" rx="1.6" fill="#fde725"/>
<text x="90.4" y="57.7" font-size="8.4" fill="#fff" text-anchor="middle">ZAP70</text>
<rect x="79.5" y="67.3" width="21.7" height="9.8" rx="1.6" fill="#efe51c"/>
<text x="90.4" y="75.2" font-size="8.4" fill="#fff" text-anchor="middle">VDR</text>
<rect x="77.0" y="105.8" width="26.9" height="9.8" rx="1.6" fill="#dfe318"/>
<text x="90.4" y="113.6" font-size="8.4" fill="#fff" text-anchor="middle">SOD2</text>
<rect x="79.5" y="140.8" width="21.7" height="6.9" rx="1.6" fill="#d0e11c"/>
<text x="90.4" y="147.2" font-size="8.4" fill="#fff" text-anchor="middle">RXR</text>
<rect x="76.5" y="148.8" width="27.8" height="9.9" rx="1.6" fill="#1f998a"/>
<text x="90.4" y="156.7" font-size="8.4" fill="#fff" text-anchor="middle">NR1I3</text>
<rect x="77.0" y="171.6" width="26.9" height="9.8" rx="1.6" fill="#20938c"/>
<text x="90.4" y="179.4" font-size="8.4" fill="#fff" text-anchor="middle">NOS2</text>
<rect x="76.3" y="204.7" width="28.3" height="9.8" rx="1.6" fill="#287c8e"/>
<text x="90.4" y="212.5" font-size="8.4" fill="#fff" text-anchor="middle">MMP9</text>
<rect x="76.0" y="229.9" width="28.7" height="9.8" rx="1.6" fill="#2b758e"/>
<text x="90.4" y="237.7" font-size="8.4" fill="#fff" text-anchor="middle">MAOB</text>
<rect x="82.6" y="247.3" width="15.7" height="11.4" rx="1.6" fill="#306a8e"/>
<text x="90.4" y="255.9" font-size="8.4" fill="#fff" text-anchor="middle">IL2</text>
<rect x="73.5" y="286.2" width="33.9" height="9.8" rx="1.6" fill="#32648e"/>
<text x="90.4" y="294.1" font-size="8.4" fill="#fff" text-anchor="middle">HMOX1</text>
<rect x="72.3" y="327.5" width="36.2" height="9.8" rx="1.6" fill="#3c508b"/>
<text x="90.4" y="335.3" font-size="8.4" fill="#fff" text-anchor="middle">FKBP1B</text>
<rect x="74.4" y="343.3" width="32.0" height="7.9" rx="1.6" fill="#3e4989"/>
<text x="90.4" y="350.2" font-size="8.4" fill="#fff" text-anchor="middle">DUSP6</text>
<rect x="79.8" y="366.2" width="21.3" height="9.8" rx="1.6" fill="#482374"/>
<text x="90.4" y="374.0" font-size="8.4" fill="#fff" text-anchor="middle">CBS</text>
<rect x="77.0" y="390.3" width="26.9" height="11.4" rx="1.6" fill="#481b6d"/>
<text x="90.4" y="398.9" font-size="8.4" fill="#fff" text-anchor="middle">BMP2</text>
<rect x="74.6" y="410.8" width="31.5" height="9.8" rx="1.6" fill="#460a5d"/>
<text x="90.4" y="418.6" font-size="8.4" fill="#fff" text-anchor="middle">ANXA5</text>
<rect x="80.5" y="428.1" width="19.9" height="11.4" rx="1.6" fill="#440154"/>
<text x="90.4" y="436.7" font-size="8.4" fill="#fff" text-anchor="middle">ALB</text>
<clipPath id="clipA"><rect x="0" y="0" width="472.5" height="1046"/></clipPath><g clip-path="url(#clipA)">
<rect x="259.2" y="30.6" width="137.8" height="9.6" rx="1.6" fill="#c0df25"/>
<text x="328.1" y="38.3" font-size="8.27" fill="#fff" text-anchor="middle">response to reactive oxygen species</text>
<rect x="278.3" y="58.2" width="99.6" height="9.6" rx="1.6" fill="#addc30"/>
<text x="328.1" y="65.9" font-size="8.27" fill="#fff" text-anchor="middle">response to oxygen levels</text>
<rect x="274.8" y="86.3" width="106.5" height="9.6" rx="1.6" fill="#9dd93b"/>
<text x="328.1" y="94.0" font-size="8.27" fill="#fff" text-anchor="middle">response to oxidative stress</text>
<rect x="272.3" y="104.0" width="111.6" height="9.6" rx="1.6" fill="#8ed645"/>
<text x="328.1" y="111.7" font-size="8.27" fill="#fff" text-anchor="middle">response to nitrosative stress</text>
<rect x="257.8" y="124.3" width="140.5" height="9.6" rx="1.6" fill="#7fd34e"/>
<text x="328.1" y="132.0" font-size="8.27" fill="#fff" text-anchor="middle">response to decreased oxygen levels</text>
<rect x="247.5" y="154.9" width="161.2" height="9.6" rx="1.6" fill="#6ece58"/>
<text x="328.1" y="162.6" font-size="8.27" fill="#fff" text-anchor="middle">reactive oxygen species metabolic process</text>
<rect x="243.4" y="178.1" width="169.5" height="9.6" rx="1.6" fill="#60ca60"/>
<text x="328.1" y="185.8" font-size="8.27" fill="#fff" text-anchor="middle">reactive oxygen species biosynthetic process</text>
<rect x="233.0" y="193.2" width="190.2" height="9.6" rx="1.6" fill="#54c568"/>
<text x="328.1" y="200.9" font-size="8.27" fill="#fff" text-anchor="middle">positive regulation of mononuclear cell proliferation</text>
<rect x="270.0" y="206.1" width="116.2" height="9.6" rx="1.6" fill="#48c16e"/>
<text x="328.1" y="213.8" font-size="8.27" fill="#fff" text-anchor="middle">phospholipase inhibitor activity</text>
<rect x="298.3" y="221.4" width="59.6" height="9.6" rx="1.6" fill="#3bbb75"/>
<text x="328.1" y="229.1" font-size="8.27" fill="#fff" text-anchor="middle">oxygen binding</text>
<rect x="172.5" y="236.4" width="311.1" height="9.6" rx="1.6" fill="#32b67a"/>
<text x="328.1" y="244.1" font-size="8.27" fill="#fff" text-anchor="middle">oxidoreductase activity, acting on the CH−NH2 group of donors, oxygen as acceptor</text>
<rect x="143.2" y="248.7" width="369.7" height="9.6" rx="1.6" fill="#2ab07f"/>
<text x="328.1" y="256.4" font-size="8.27" fill="#fff" text-anchor="middle">oxidoreductase activity, acting on paired donors, with incorporation or reduction of molecular oxygen</text>
<rect x="263.1" y="261.7" width="130.0" height="9.6" rx="1.6" fill="#25ab82"/>
<text x="328.1" y="269.4" font-size="8.27" fill="#fff" text-anchor="middle">nuclear retinoid X receptor binding</text>
<rect x="258.5" y="271.6" width="139.1" height="9.6" rx="1.6" fill="#20a486"/>
<text x="328.1" y="279.3" font-size="8.27" fill="#fff" text-anchor="middle">nuclear retinoic acid receptor binding</text>
<rect x="282.4" y="284.5" width="91.3" height="9.6" rx="1.6" fill="#1f9f88"/>
<text x="328.1" y="292.2" font-size="8.27" fill="#fff" text-anchor="middle">nuclear receptor activity</text>
<rect x="282.0" y="299.7" width="92.3" height="9.6" rx="1.6" fill="#228d8d"/>
<text x="328.1" y="307.4" font-size="8.27" fill="#fff" text-anchor="middle">monooxygenase activity</text>
<rect x="272.1" y="317.1" width="112.0" height="9.6" rx="1.6" fill="#24878e"/>
<text x="328.1" y="324.8" font-size="8.27" fill="#fff" text-anchor="middle">mononuclear cell proliferation</text>
<rect x="274.8" y="332.2" width="106.5" height="9.6" rx="1.6" fill="#26828e"/>
<text x="328.1" y="339.9" font-size="8.27" fill="#fff" text-anchor="middle">modified amino acid binding</text>
<rect x="285.9" y="342.5" width="84.4" height="9.6" rx="1.6" fill="#2d708e"/>
<text x="328.1" y="350.2" font-size="8.27" fill="#fff" text-anchor="middle">lipase inhibitor activity</text>
<rect x="282.7" y="352.2" width="90.9" height="9.6" rx="1.6" fill="#365d8d"/>
<text x="328.1" y="359.9" font-size="8.27" fill="#fff" text-anchor="middle">heme catabolic process</text>
<rect x="301.3" y="367.1" width="53.7" height="9.6" rx="1.6" fill="#39568c"/>
<text x="328.1" y="374.8" font-size="8.27" fill="#fff" text-anchor="middle">heme binding</text>
<rect x="245.0" y="385.4" width="166.3" height="9.6" rx="1.6" fill="#424186"/>
<text x="328.1" y="393.1" font-size="8.27" fill="#fff" text-anchor="middle">cellular response to reactive oxygen species</text>
<rect x="260.6" y="402.9" width="135.0" height="9.6" rx="1.6" fill="#443a83"/>
<text x="328.1" y="410.6" font-size="8.27" fill="#fff" text-anchor="middle">cellular response to oxidative stress</text>
<rect x="243.6" y="420.2" width="169.0" height="9.6" rx="1.6" fill="#46337f"/>
<text x="328.1" y="427.9" font-size="8.27" fill="#fff" text-anchor="middle">cellular response to decreased oxygen levels</text>
<rect x="260.6" y="438.6" width="135.0" height="9.6" rx="1.6" fill="#472c7a"/>
<text x="328.1" y="446.3" font-size="8.27" fill="#fff" text-anchor="middle">cellular response to chemical stress</text>
<rect x="291.4" y="453.8" width="73.4" height="9.6" rx="1.6" fill="#471365"/>
<text x="328.1" y="461.5" font-size="8.27" fill="#fff" text-anchor="middle">blood microparticle</text>
</g>
<g fill="none" stroke-opacity="0.28" stroke-width="1.1">
<path d="M1029.4,29.20L1084.6,29.20C1135.6,29.20 1135.6,24.00 1186.6,24.00L1241.8,24.00L1241.8,31.90L1186.6,31.90C1135.6,31.90 1135.6,34.30 1084.6,34.30L1029.4,34.30Z" stroke="#fde725"/>
<path d="M1029.4,34.30L1084.6,34.30C1135.6,34.30 1135.6,45.30 1186.6,45.30L1241.8,45.30L1241.8,49.97L1186.6,49.97C1135.6,49.97 1135.6,39.40 1084.6,39.40L1029.4,39.40Z" stroke="#fde725"/>
<path d="M1029.4,39.40L1084.6,39.40C1135.6,39.40 1135.6,68.80 1186.6,68.80L1241.8,68.80L1241.8,74.10L1186.6,74.10C1135.6,74.10 1135.6,44.50 1084.6,44.50L1029.4,44.50Z" stroke="#fde725"/>
<path d="M1029.4,48.70L1084.6,48.70C1135.6,48.70 1135.6,191.50 1186.6,191.50L1241.8,191.50L1241.8,196.50L1186.6,196.50C1135.6,196.50 1135.6,54.15 1084.6,54.15L1029.4,54.15Z" stroke="#dde318"/>
<path d="M1029.4,54.15L1084.6,54.15C1135.6,54.15 1135.6,421.60 1186.6,421.60L1241.8,421.60L1241.8,426.64L1186.6,426.64C1135.6,426.64 1135.6,59.60 1084.6,59.60L1029.4,59.60Z" stroke="#dde318"/>
<path d="M1029.4,63.80L1084.6,63.80C1135.6,63.80 1135.6,211.30 1186.6,211.30L1241.8,211.30L1241.8,216.07L1186.6,216.07C1135.6,216.07 1135.6,71.45 1084.6,71.45L1029.4,71.45Z" stroke="#a5db36"/>
<path d="M1029.4,71.45L1084.6,71.45C1135.6,71.45 1135.6,337.40 1186.6,337.40L1241.8,337.40L1241.8,342.93L1186.6,342.93C1135.6,342.93 1135.6,79.10 1084.6,79.10L1029.4,79.10Z" stroke="#a5db36"/>
<path d="M1029.4,81.80L1084.6,81.80C1135.6,81.80 1135.6,426.64 1186.6,426.64L1241.8,426.64L1241.8,431.68L1186.6,431.68C1135.6,431.68 1135.6,90.40 1084.6,90.40L1029.4,90.40Z" stroke="#52c569"/>
<path d="M1029.4,92.30L1084.6,92.30C1135.6,92.30 1135.6,431.68 1186.6,431.68L1241.8,431.68L1241.8,436.72L1186.6,436.72C1135.6,436.72 1135.6,99.90 1084.6,99.90L1029.4,99.90Z" stroke="#38b977"/>
<path d="M1029.4,103.00L1084.6,103.00C1135.6,103.00 1135.6,93.70 1186.6,93.70L1241.8,93.70L1241.8,98.80L1186.6,98.80C1135.6,98.80 1135.6,107.70 1084.6,107.70L1029.4,107.70Z" stroke="#2fb47c"/>
<path d="M1029.4,107.70L1084.6,107.70C1135.6,107.70 1135.6,294.70 1186.6,294.70L1241.8,294.70L1241.8,299.42L1186.6,299.42C1135.6,299.42 1135.6,112.40 1084.6,112.40L1029.4,112.40Z" stroke="#2fb47c"/>
<path d="M1029.4,116.90L1084.6,116.90C1135.6,116.90 1135.6,98.80 1186.6,98.80L1241.8,98.80L1241.8,103.90L1186.6,103.90C1135.6,103.90 1135.6,121.41 1084.6,121.41L1029.4,121.41Z" stroke="#27ad81"/>
<path d="M1029.4,121.41L1084.6,121.41C1135.6,121.41 1135.6,113.50 1186.6,113.50L1241.8,113.50L1241.8,118.17L1186.6,118.17C1135.6,118.17 1135.6,125.93 1084.6,125.93L1029.4,125.93Z" stroke="#27ad81"/>
<path d="M1029.4,125.93L1084.6,125.93C1135.6,125.93 1135.6,196.50 1186.6,196.50L1241.8,196.50L1241.8,201.50L1186.6,201.50C1135.6,201.50 1135.6,130.44 1084.6,130.44L1029.4,130.44Z" stroke="#27ad81"/>
<path d="M1029.4,130.44L1084.6,130.44C1135.6,130.44 1135.6,231.00 1186.6,231.00L1241.8,231.00L1241.8,235.90L1186.6,235.90C1135.6,235.90 1135.6,134.95 1084.6,134.95L1029.4,134.95Z" stroke="#27ad81"/>
<path d="M1029.4,134.95L1084.6,134.95C1135.6,134.95 1135.6,274.00 1186.6,274.00L1241.8,274.00L1241.8,279.07L1186.6,279.07C1135.6,279.07 1135.6,139.46 1084.6,139.46L1029.4,139.46Z" stroke="#27ad81"/>
<path d="M1029.4,139.46L1084.6,139.46C1135.6,139.46 1135.6,358.00 1186.6,358.00L1241.8,358.00L1241.8,362.82L1186.6,362.82C1135.6,362.82 1135.6,143.97 1084.6,143.97L1029.4,143.97Z" stroke="#27ad81"/>
<path d="M1029.4,143.97L1084.6,143.97C1135.6,143.97 1135.6,382.00 1186.6,382.00L1241.8,382.00L1241.8,387.15L1186.6,387.15C1135.6,387.15 1135.6,148.49 1084.6,148.49L1029.4,148.49Z" stroke="#27ad81"/>
<path d="M1029.4,148.49L1084.6,148.49C1135.6,148.49 1135.6,451.10 1186.6,451.10L1241.8,451.10L1241.8,456.00L1186.6,456.00C1135.6,456.00 1135.6,153.00 1084.6,153.00L1029.4,153.00Z" stroke="#27ad81"/>
<path d="M1029.4,156.80L1084.6,156.80C1135.6,156.80 1135.6,31.90 1186.6,31.90L1241.8,31.90L1241.8,39.80L1186.6,39.80C1135.6,39.80 1135.6,161.75 1084.6,161.75L1029.4,161.75Z" stroke="#22a785"/>
<path d="M1029.4,161.75L1084.6,161.75C1135.6,161.75 1135.6,74.10 1186.6,74.10L1241.8,74.10L1241.8,79.40L1186.6,79.40C1135.6,79.40 1135.6,166.71 1084.6,166.71L1029.4,166.71Z" stroke="#22a785"/>
<path d="M1029.4,166.71L1084.6,166.71C1135.6,166.71 1135.6,103.90 1186.6,103.90L1241.8,103.90L1241.8,109.00L1186.6,109.00C1135.6,109.00 1135.6,171.66 1084.6,171.66L1029.4,171.66Z" stroke="#22a785"/>
<path d="M1029.4,171.66L1084.6,171.66C1135.6,171.66 1135.6,118.17 1186.6,118.17L1241.8,118.17L1241.8,122.85L1186.6,122.85C1135.6,122.85 1135.6,176.62 1084.6,176.62L1029.4,176.62Z" stroke="#22a785"/>
<path d="M1029.4,176.62L1084.6,176.62C1135.6,176.62 1135.6,137.70 1186.6,137.70L1241.8,137.70L1241.8,142.80L1186.6,142.80C1135.6,142.80 1135.6,181.57 1084.6,181.57L1029.4,181.57Z" stroke="#22a785"/>
<path d="M1029.4,181.57L1084.6,181.57C1135.6,181.57 1135.6,157.50 1186.6,157.50L1241.8,157.50L1241.8,162.37L1186.6,162.37C1135.6,162.37 1135.6,186.52 1084.6,186.52L1029.4,186.52Z" stroke="#22a785"/>
<path d="M1029.4,186.52L1084.6,186.52C1135.6,186.52 1135.6,201.50 1186.6,201.50L1241.8,201.50L1241.8,206.50L1186.6,206.50C1135.6,206.50 1135.6,191.48 1084.6,191.48L1029.4,191.48Z" stroke="#22a785"/>
<path d="M1029.4,191.48L1084.6,191.48C1135.6,191.48 1135.6,235.90 1186.6,235.90L1241.8,235.90L1241.8,240.80L1186.6,240.80C1135.6,240.80 1135.6,196.43 1084.6,196.43L1029.4,196.43Z" stroke="#22a785"/>
<path d="M1029.4,196.43L1084.6,196.43C1135.6,196.43 1135.6,254.80 1186.6,254.80L1241.8,254.80L1241.8,260.30L1186.6,260.30C1135.6,260.30 1135.6,201.38 1084.6,201.38L1029.4,201.38Z" stroke="#22a785"/>
<path d="M1029.4,201.38L1084.6,201.38C1135.6,201.38 1135.6,299.42 1186.6,299.42L1241.8,299.42L1241.8,304.14L1186.6,304.14C1135.6,304.14 1135.6,206.34 1084.6,206.34L1029.4,206.34Z" stroke="#22a785"/>
<path d="M1029.4,206.34L1084.6,206.34C1135.6,206.34 1135.6,342.93 1186.6,342.93L1241.8,342.93L1241.8,348.47L1186.6,348.47C1135.6,348.47 1135.6,211.29 1084.6,211.29L1029.4,211.29Z" stroke="#22a785"/>
<path d="M1029.4,211.29L1084.6,211.29C1135.6,211.29 1135.6,387.15 1186.6,387.15L1241.8,387.15L1241.8,392.30L1186.6,392.30C1135.6,392.30 1135.6,216.25 1084.6,216.25L1029.4,216.25Z" stroke="#22a785"/>
<path d="M1029.4,216.25L1084.6,216.25C1135.6,216.25 1135.6,456.00 1186.6,456.00L1241.8,456.00L1241.8,460.90L1186.6,460.90C1135.6,460.90 1135.6,221.20 1084.6,221.20L1029.4,221.20Z" stroke="#22a785"/>
<path d="M1029.4,225.60L1084.6,225.60C1135.6,225.60 1135.6,323.80 1186.6,323.80L1241.8,323.80L1241.8,328.70L1186.6,328.70C1135.6,328.70 1135.6,230.30 1084.6,230.30L1029.4,230.30Z" stroke="#1fa188"/>
<path d="M1029.4,230.30L1084.6,230.30C1135.6,230.30 1135.6,407.10 1186.6,407.10L1241.8,407.10L1241.8,412.00L1186.6,412.00C1135.6,412.00 1135.6,235.00 1084.6,235.00L1029.4,235.00Z" stroke="#1fa188"/>
<path d="M1029.4,238.00L1084.6,238.00C1135.6,238.00 1135.6,79.40 1186.6,79.40L1241.8,79.40L1241.8,84.70L1186.6,84.70C1135.6,84.70 1135.6,248.00 1084.6,248.00L1029.4,248.00Z" stroke="#228d8d"/>
<path d="M1029.4,250.70L1084.6,250.70C1135.6,250.70 1135.6,162.37 1186.6,162.37L1241.8,162.37L1241.8,167.23L1186.6,167.23C1135.6,167.23 1135.6,255.36 1084.6,255.36L1029.4,255.36Z" stroke="#27808e"/>
<path d="M1029.4,255.36L1084.6,255.36C1135.6,255.36 1135.6,216.07 1186.6,216.07L1241.8,216.07L1241.8,220.83L1186.6,220.83C1135.6,220.83 1135.6,260.02 1084.6,260.02L1029.4,260.02Z" stroke="#27808e"/>
<path d="M1029.4,260.02L1084.6,260.02C1135.6,260.02 1135.6,260.30 1186.6,260.30L1241.8,260.30L1241.8,265.80L1186.6,265.80C1135.6,265.80 1135.6,264.68 1084.6,264.68L1029.4,264.68Z" stroke="#27808e"/>
<path d="M1029.4,264.68L1084.6,264.68C1135.6,264.68 1135.6,304.14 1186.6,304.14L1241.8,304.14L1241.8,308.86L1186.6,308.86C1135.6,308.86 1135.6,269.34 1084.6,269.34L1029.4,269.34Z" stroke="#27808e"/>
<path d="M1029.4,269.34L1084.6,269.34C1135.6,269.34 1135.6,348.47 1186.6,348.47L1241.8,348.47L1241.8,354.00L1186.6,354.00C1135.6,354.00 1135.6,274.00 1084.6,274.00L1029.4,274.00Z" stroke="#27808e"/>
<path d="M1029.4,279.30L1084.6,279.30C1135.6,279.30 1135.6,49.97 1186.6,49.97L1241.8,49.97L1241.8,54.65L1186.6,54.65C1135.6,54.65 1135.6,285.80 1084.6,285.80L1029.4,285.80Z" stroke="#29798e"/>
<path d="M1029.4,285.80L1084.6,285.80C1135.6,285.80 1135.6,84.70 1186.6,84.70L1241.8,84.70L1241.8,90.00L1186.6,90.00C1135.6,90.00 1135.6,292.30 1084.6,292.30L1029.4,292.30Z" stroke="#29798e"/>
<path d="M1029.4,292.30L1084.6,292.30C1135.6,292.30 1135.6,167.23 1186.6,167.23L1241.8,167.23L1241.8,172.10L1186.6,172.10C1135.6,172.10 1135.6,298.80 1084.6,298.80L1029.4,298.80Z" stroke="#29798e"/>
<path d="M1029.4,303.40L1084.6,303.40C1135.6,303.40 1135.6,54.65 1186.6,54.65L1241.8,54.65L1241.8,59.33L1186.6,59.33C1135.6,59.33 1135.6,308.38 1084.6,308.38L1029.4,308.38Z" stroke="#2f6c8e"/>
<path d="M1029.4,308.38L1084.6,308.38C1135.6,308.38 1135.6,122.85 1186.6,122.85L1241.8,122.85L1241.8,127.52L1186.6,127.52C1135.6,127.52 1135.6,313.36 1084.6,313.36L1029.4,313.36Z" stroke="#2f6c8e"/>
<path d="M1029.4,313.36L1084.6,313.36C1135.6,313.36 1135.6,142.80 1186.6,142.80L1241.8,142.80L1241.8,147.90L1186.6,147.90C1135.6,147.90 1135.6,318.33 1084.6,318.33L1029.4,318.33Z" stroke="#2f6c8e"/>
<path d="M1029.4,318.33L1084.6,318.33C1135.6,318.33 1135.6,172.10 1186.6,172.10L1241.8,172.10L1241.8,176.97L1186.6,176.97C1135.6,176.97 1135.6,323.31 1084.6,323.31L1029.4,323.31Z" stroke="#2f6c8e"/>
<path d="M1029.4,323.31L1084.6,323.31C1135.6,323.31 1135.6,240.80 1186.6,240.80L1241.8,240.80L1241.8,245.70L1186.6,245.70C1135.6,245.70 1135.6,328.29 1084.6,328.29L1029.4,328.29Z" stroke="#2f6c8e"/>
<path d="M1029.4,328.29L1084.6,328.29C1135.6,328.29 1135.6,279.07 1186.6,279.07L1241.8,279.07L1241.8,284.13L1186.6,284.13C1135.6,284.13 1135.6,333.27 1084.6,333.27L1029.4,333.27Z" stroke="#2f6c8e"/>
<path d="M1029.4,333.27L1084.6,333.27C1135.6,333.27 1135.6,362.82 1186.6,362.82L1241.8,362.82L1241.8,367.65L1186.6,367.65C1135.6,367.65 1135.6,338.24 1084.6,338.24L1029.4,338.24Z" stroke="#2f6c8e"/>
<path d="M1029.4,338.24L1084.6,338.24C1135.6,338.24 1135.6,392.30 1186.6,392.30L1241.8,392.30L1241.8,397.45L1186.6,397.45C1135.6,397.45 1135.6,343.22 1084.6,343.22L1029.4,343.22Z" stroke="#2f6c8e"/>
<path d="M1029.4,343.22L1084.6,343.22C1135.6,343.22 1135.6,436.72 1186.6,436.72L1241.8,436.72L1241.8,441.76L1186.6,441.76C1135.6,441.76 1135.6,348.20 1084.6,348.20L1029.4,348.20Z" stroke="#2f6c8e"/>
<path d="M1029.4,352.80L1084.6,352.80C1135.6,352.80 1135.6,59.33 1186.6,59.33L1241.8,59.33L1241.8,64.00L1186.6,64.00C1135.6,64.00 1135.6,357.71 1084.6,357.71L1029.4,357.71Z" stroke="#31668e"/>
<path d="M1029.4,357.71L1084.6,357.71C1135.6,357.71 1135.6,127.52 1186.6,127.52L1241.8,127.52L1241.8,132.20L1186.6,132.20C1135.6,132.20 1135.6,362.62 1084.6,362.62L1029.4,362.62Z" stroke="#31668e"/>
<path d="M1029.4,362.62L1084.6,362.62C1135.6,362.62 1135.6,147.90 1186.6,147.90L1241.8,147.90L1241.8,153.00L1186.6,153.00C1135.6,153.00 1135.6,367.53 1084.6,367.53L1029.4,367.53Z" stroke="#31668e"/>
<path d="M1029.4,367.53L1084.6,367.53C1135.6,367.53 1135.6,176.97 1186.6,176.97L1241.8,176.97L1241.8,181.83L1186.6,181.83C1135.6,181.83 1135.6,372.44 1084.6,372.44L1029.4,372.44Z" stroke="#31668e"/>
<path d="M1029.4,372.44L1084.6,372.44C1135.6,372.44 1135.6,245.70 1186.6,245.70L1241.8,245.70L1241.8,250.60L1186.6,250.60C1135.6,250.60 1135.6,377.36 1084.6,377.36L1029.4,377.36Z" stroke="#31668e"/>
<path d="M1029.4,377.36L1084.6,377.36C1135.6,377.36 1135.6,284.13 1186.6,284.13L1241.8,284.13L1241.8,289.20L1186.6,289.20C1135.6,289.20 1135.6,382.27 1084.6,382.27L1029.4,382.27Z" stroke="#31668e"/>
<path d="M1029.4,382.27L1084.6,382.27C1135.6,382.27 1135.6,367.65 1186.6,367.65L1241.8,367.65L1241.8,372.48L1186.6,372.48C1135.6,372.48 1135.6,387.18 1084.6,387.18L1029.4,387.18Z" stroke="#31668e"/>
<path d="M1029.4,387.18L1084.6,387.18C1135.6,387.18 1135.6,397.45 1186.6,397.45L1241.8,397.45L1241.8,402.60L1186.6,402.60C1135.6,402.60 1135.6,392.09 1084.6,392.09L1029.4,392.09Z" stroke="#31668e"/>
<path d="M1029.4,392.09L1084.6,392.09C1135.6,392.09 1135.6,441.76 1186.6,441.76L1241.8,441.76L1241.8,446.80L1186.6,446.80C1135.6,446.80 1135.6,397.00 1084.6,397.00L1029.4,397.00Z" stroke="#31668e"/>
<path d="M1029.4,402.60L1084.6,402.60C1135.6,402.60 1135.6,308.86 1186.6,308.86L1241.8,308.86L1241.8,313.58L1186.6,313.58C1135.6,313.58 1135.6,407.50 1084.6,407.50L1029.4,407.50Z" stroke="#355f8d"/>
<path d="M1029.4,407.50L1084.6,407.50C1135.6,407.50 1135.6,372.48 1186.6,372.48L1241.8,372.48L1241.8,377.30L1186.6,377.30C1135.6,377.30 1135.6,412.40 1084.6,412.40L1029.4,412.40Z" stroke="#355f8d"/>
<path d="M1029.4,417.00L1084.6,417.00C1135.6,417.00 1135.6,181.83 1186.6,181.83L1241.8,181.83L1241.8,186.70L1186.6,186.70C1135.6,186.70 1135.6,421.88 1084.6,421.88L1029.4,421.88Z" stroke="#472f7d"/>
<path d="M1029.4,421.88L1084.6,421.88C1135.6,421.88 1135.6,220.83 1186.6,220.83L1241.8,220.83L1241.8,225.60L1186.6,225.60C1135.6,225.60 1135.6,426.75 1084.6,426.75L1029.4,426.75Z" stroke="#472f7d"/>
<path d="M1029.4,426.75L1084.6,426.75C1135.6,426.75 1135.6,265.80 1186.6,265.80L1241.8,265.80L1241.8,271.30L1186.6,271.30C1135.6,271.30 1135.6,431.62 1084.6,431.62L1029.4,431.62Z" stroke="#472f7d"/>
<path d="M1029.4,431.62L1084.6,431.62C1135.6,431.62 1135.6,313.58 1186.6,313.58L1241.8,313.58L1241.8,318.30L1186.6,318.30C1135.6,318.30 1135.6,436.50 1084.6,436.50L1029.4,436.50Z" stroke="#472f7d"/>
<path d="M1029.4,439.30L1084.6,439.30C1135.6,439.30 1135.6,412.00 1186.6,412.00L1241.8,412.00L1241.8,416.90L1186.6,416.90C1135.6,416.90 1135.6,449.10 1084.6,449.10L1029.4,449.10Z" stroke="#481467"/>
<path d="M1029.4,449.80L1084.6,449.80C1135.6,449.80 1135.6,328.70 1186.6,328.70L1241.8,328.70L1241.8,333.60L1186.6,333.60C1135.6,333.60 1135.6,458.30 1084.6,458.30L1029.4,458.30Z" stroke="#460a5d"/>
</g><g stroke="#fff" stroke-opacity="0.3" stroke-width="0.35">
<path d="M1029.4,29.20L1084.6,29.20C1135.6,29.20 1135.6,24.00 1186.6,24.00L1241.8,24.00L1241.8,31.90L1186.6,31.90C1135.6,31.90 1135.6,34.30 1084.6,34.30L1029.4,34.30Z" fill="#fde725" fill-opacity="0.5"/>
<path d="M1029.4,34.30L1084.6,34.30C1135.6,34.30 1135.6,45.30 1186.6,45.30L1241.8,45.30L1241.8,49.97L1186.6,49.97C1135.6,49.97 1135.6,39.40 1084.6,39.40L1029.4,39.40Z" fill="#fde725" fill-opacity="0.5"/>
<path d="M1029.4,39.40L1084.6,39.40C1135.6,39.40 1135.6,68.80 1186.6,68.80L1241.8,68.80L1241.8,74.10L1186.6,74.10C1135.6,74.10 1135.6,44.50 1084.6,44.50L1029.4,44.50Z" fill="#fde725" fill-opacity="0.5"/>
<path d="M1029.4,48.70L1084.6,48.70C1135.6,48.70 1135.6,191.50 1186.6,191.50L1241.8,191.50L1241.8,196.50L1186.6,196.50C1135.6,196.50 1135.6,54.15 1084.6,54.15L1029.4,54.15Z" fill="#dde318" fill-opacity="0.5"/>
<path d="M1029.4,54.15L1084.6,54.15C1135.6,54.15 1135.6,421.60 1186.6,421.60L1241.8,421.60L1241.8,426.64L1186.6,426.64C1135.6,426.64 1135.6,59.60 1084.6,59.60L1029.4,59.60Z" fill="#dde318" fill-opacity="0.5"/>
<path d="M1029.4,63.80L1084.6,63.80C1135.6,63.80 1135.6,211.30 1186.6,211.30L1241.8,211.30L1241.8,216.07L1186.6,216.07C1135.6,216.07 1135.6,71.45 1084.6,71.45L1029.4,71.45Z" fill="#a5db36" fill-opacity="0.5"/>
<path d="M1029.4,71.45L1084.6,71.45C1135.6,71.45 1135.6,337.40 1186.6,337.40L1241.8,337.40L1241.8,342.93L1186.6,342.93C1135.6,342.93 1135.6,79.10 1084.6,79.10L1029.4,79.10Z" fill="#a5db36" fill-opacity="0.5"/>
<path d="M1029.4,81.80L1084.6,81.80C1135.6,81.80 1135.6,426.64 1186.6,426.64L1241.8,426.64L1241.8,431.68L1186.6,431.68C1135.6,431.68 1135.6,90.40 1084.6,90.40L1029.4,90.40Z" fill="#52c569" fill-opacity="0.5"/>
<path d="M1029.4,92.30L1084.6,92.30C1135.6,92.30 1135.6,431.68 1186.6,431.68L1241.8,431.68L1241.8,436.72L1186.6,436.72C1135.6,436.72 1135.6,99.90 1084.6,99.90L1029.4,99.90Z" fill="#38b977" fill-opacity="0.5"/>
<path d="M1029.4,103.00L1084.6,103.00C1135.6,103.00 1135.6,93.70 1186.6,93.70L1241.8,93.70L1241.8,98.80L1186.6,98.80C1135.6,98.80 1135.6,107.70 1084.6,107.70L1029.4,107.70Z" fill="#2fb47c" fill-opacity="0.5"/>
<path d="M1029.4,107.70L1084.6,107.70C1135.6,107.70 1135.6,294.70 1186.6,294.70L1241.8,294.70L1241.8,299.42L1186.6,299.42C1135.6,299.42 1135.6,112.40 1084.6,112.40L1029.4,112.40Z" fill="#2fb47c" fill-opacity="0.5"/>
<path d="M1029.4,116.90L1084.6,116.90C1135.6,116.90 1135.6,98.80 1186.6,98.80L1241.8,98.80L1241.8,103.90L1186.6,103.90C1135.6,103.90 1135.6,121.41 1084.6,121.41L1029.4,121.41Z" fill="#27ad81" fill-opacity="0.5"/>
<path d="M1029.4,121.41L1084.6,121.41C1135.6,121.41 1135.6,113.50 1186.6,113.50L1241.8,113.50L1241.8,118.17L1186.6,118.17C1135.6,118.17 1135.6,125.93 1084.6,125.93L1029.4,125.93Z" fill="#27ad81" fill-opacity="0.5"/>
<path d="M1029.4,125.93L1084.6,125.93C1135.6,125.93 1135.6,196.50 1186.6,196.50L1241.8,196.50L1241.8,201.50L1186.6,201.50C1135.6,201.50 1135.6,130.44 1084.6,130.44L1029.4,130.44Z" fill="#27ad81" fill-opacity="0.5"/>
<path d="M1029.4,130.44L1084.6,130.44C1135.6,130.44 1135.6,231.00 1186.6,231.00L1241.8,231.00L1241.8,235.90L1186.6,235.90C1135.6,235.90 1135.6,134.95 1084.6,134.95L1029.4,134.95Z" fill="#27ad81" fill-opacity="0.5"/>
<path d="M1029.4,134.95L1084.6,134.95C1135.6,134.95 1135.6,274.00 1186.6,274.00L1241.8,274.00L1241.8,279.07L1186.6,279.07C1135.6,279.07 1135.6,139.46 1084.6,139.46L1029.4,139.46Z" fill="#27ad81" fill-opacity="0.5"/>
<path d="M1029.4,139.46L1084.6,139.46C1135.6,139.46 1135.6,358.00 1186.6,358.00L1241.8,358.00L1241.8,362.82L1186.6,362.82C1135.6,362.82 1135.6,143.97 1084.6,143.97L1029.4,143.97Z" fill="#27ad81" fill-opacity="0.5"/>
<path d="M1029.4,143.97L1084.6,143.97C1135.6,143.97 1135.6,382.00 1186.6,382.00L1241.8,382.00L1241.8,387.15L1186.6,387.15C1135.6,387.15 1135.6,148.49 1084.6,148.49L1029.4,148.49Z" fill="#27ad81" fill-opacity="0.5"/>
<path d="M1029.4,148.49L1084.6,148.49C1135.6,148.49 1135.6,451.10 1186.6,451.10L1241.8,451.10L1241.8,456.00L1186.6,456.00C1135.6,456.00 1135.6,153.00 1084.6,153.00L1029.4,153.00Z" fill="#27ad81" fill-opacity="0.5"/>
<path d="M1029.4,156.80L1084.6,156.80C1135.6,156.80 1135.6,31.90 1186.6,31.90L1241.8,31.90L1241.8,39.80L1186.6,39.80C1135.6,39.80 1135.6,161.75 1084.6,161.75L1029.4,161.75Z" fill="#22a785" fill-opacity="0.5"/>
<path d="M1029.4,161.75L1084.6,161.75C1135.6,161.75 1135.6,74.10 1186.6,74.10L1241.8,74.10L1241.8,79.40L1186.6,79.40C1135.6,79.40 1135.6,166.71 1084.6,166.71L1029.4,166.71Z" fill="#22a785" fill-opacity="0.5"/>
<path d="M1029.4,166.71L1084.6,166.71C1135.6,166.71 1135.6,103.90 1186.6,103.90L1241.8,103.90L1241.8,109.00L1186.6,109.00C1135.6,109.00 1135.6,171.66 1084.6,171.66L1029.4,171.66Z" fill="#22a785" fill-opacity="0.5"/>
<path d="M1029.4,171.66L1084.6,171.66C1135.6,171.66 1135.6,118.17 1186.6,118.17L1241.8,118.17L1241.8,122.85L1186.6,122.85C1135.6,122.85 1135.6,176.62 1084.6,176.62L1029.4,176.62Z" fill="#22a785" fill-opacity="0.5"/>
<path d="M1029.4,176.62L1084.6,176.62C1135.6,176.62 1135.6,137.70 1186.6,137.70L1241.8,137.70L1241.8,142.80L1186.6,142.80C1135.6,142.80 1135.6,181.57 1084.6,181.57L1029.4,181.57Z" fill="#22a785" fill-opacity="0.5"/>
<path d="M1029.4,181.57L1084.6,181.57C1135.6,181.57 1135.6,157.50 1186.6,157.50L1241.8,157.50L1241.8,162.37L1186.6,162.37C1135.6,162.37 1135.6,186.52 1084.6,186.52L1029.4,186.52Z" fill="#22a785" fill-opacity="0.5"/>
<path d="M1029.4,186.52L1084.6,186.52C1135.6,186.52 1135.6,201.50 1186.6,201.50L1241.8,201.50L1241.8,206.50L1186.6,206.50C1135.6,206.50 1135.6,191.48 1084.6,191.48L1029.4,191.48Z" fill="#22a785" fill-opacity="0.5"/>
<path d="M1029.4,191.48L1084.6,191.48C1135.6,191.48 1135.6,235.90 1186.6,235.90L1241.8,235.90L1241.8,240.80L1186.6,240.80C1135.6,240.80 1135.6,196.43 1084.6,196.43L1029.4,196.43Z" fill="#22a785" fill-opacity="0.5"/>
<path d="M1029.4,196.43L1084.6,196.43C1135.6,196.43 1135.6,254.80 1186.6,254.80L1241.8,254.80L1241.8,260.30L1186.6,260.30C1135.6,260.30 1135.6,201.38 1084.6,201.38L1029.4,201.38Z" fill="#22a785" fill-opacity="0.5"/>
<path d="M1029.4,201.38L1084.6,201.38C1135.6,201.38 1135.6,299.42 1186.6,299.42L1241.8,299.42L1241.8,304.14L1186.6,304.14C1135.6,304.14 1135.6,206.34 1084.6,206.34L1029.4,206.34Z" fill="#22a785" fill-opacity="0.5"/>
<path d="M1029.4,206.34L1084.6,206.34C1135.6,206.34 1135.6,342.93 1186.6,342.93L1241.8,342.93L1241.8,348.47L1186.6,348.47C1135.6,348.47 1135.6,211.29 1084.6,211.29L1029.4,211.29Z" fill="#22a785" fill-opacity="0.5"/>
<path d="M1029.4,211.29L1084.6,211.29C1135.6,211.29 1135.6,387.15 1186.6,387.15L1241.8,387.15L1241.8,392.30L1186.6,392.30C1135.6,392.30 1135.6,216.25 1084.6,216.25L1029.4,216.25Z" fill="#22a785" fill-opacity="0.5"/>
<path d="M1029.4,216.25L1084.6,216.25C1135.6,216.25 1135.6,456.00 1186.6,456.00L1241.8,456.00L1241.8,460.90L1186.6,460.90C1135.6,460.90 1135.6,221.20 1084.6,221.20L1029.4,221.20Z" fill="#22a785" fill-opacity="0.5"/>
<path d="M1029.4,225.60L1084.6,225.60C1135.6,225.60 1135.6,323.80 1186.6,323.80L1241.8,323.80L1241.8,328.70L1186.6,328.70C1135.6,328.70 1135.6,230.30 1084.6,230.30L1029.4,230.30Z" fill="#1fa188" fill-opacity="0.5"/>
<path d="M1029.4,230.30L1084.6,230.30C1135.6,230.30 1135.6,407.10 1186.6,407.10L1241.8,407.10L1241.8,412.00L1186.6,412.00C1135.6,412.00 1135.6,235.00 1084.6,235.00L1029.4,235.00Z" fill="#1fa188" fill-opacity="0.5"/>
<path d="M1029.4,238.00L1084.6,238.00C1135.6,238.00 1135.6,79.40 1186.6,79.40L1241.8,79.40L1241.8,84.70L1186.6,84.70C1135.6,84.70 1135.6,248.00 1084.6,248.00L1029.4,248.00Z" fill="#228d8d" fill-opacity="0.5"/>
<path d="M1029.4,250.70L1084.6,250.70C1135.6,250.70 1135.6,162.37 1186.6,162.37L1241.8,162.37L1241.8,167.23L1186.6,167.23C1135.6,167.23 1135.6,255.36 1084.6,255.36L1029.4,255.36Z" fill="#27808e" fill-opacity="0.5"/>
<path d="M1029.4,255.36L1084.6,255.36C1135.6,255.36 1135.6,216.07 1186.6,216.07L1241.8,216.07L1241.8,220.83L1186.6,220.83C1135.6,220.83 1135.6,260.02 1084.6,260.02L1029.4,260.02Z" fill="#27808e" fill-opacity="0.5"/>
<path d="M1029.4,260.02L1084.6,260.02C1135.6,260.02 1135.6,260.30 1186.6,260.30L1241.8,260.30L1241.8,265.80L1186.6,265.80C1135.6,265.80 1135.6,264.68 1084.6,264.68L1029.4,264.68Z" fill="#27808e" fill-opacity="0.5"/>
<path d="M1029.4,264.68L1084.6,264.68C1135.6,264.68 1135.6,304.14 1186.6,304.14L1241.8,304.14L1241.8,308.86L1186.6,308.86C1135.6,308.86 1135.6,269.34 1084.6,269.34L1029.4,269.34Z" fill="#27808e" fill-opacity="0.5"/>
<path d="M1029.4,269.34L1084.6,269.34C1135.6,269.34 1135.6,348.47 1186.6,348.47L1241.8,348.47L1241.8,354.00L1186.6,354.00C1135.6,354.00 1135.6,274.00 1084.6,274.00L1029.4,274.00Z" fill="#27808e" fill-opacity="0.5"/>
<path d="M1029.4,279.30L1084.6,279.30C1135.6,279.30 1135.6,49.97 1186.6,49.97L1241.8,49.97L1241.8,54.65L1186.6,54.65C1135.6,54.65 1135.6,285.80 1084.6,285.80L1029.4,285.80Z" fill="#29798e" fill-opacity="0.5"/>
<path d="M1029.4,285.80L1084.6,285.80C1135.6,285.80 1135.6,84.70 1186.6,84.70L1241.8,84.70L1241.8,90.00L1186.6,90.00C1135.6,90.00 1135.6,292.30 1084.6,292.30L1029.4,292.30Z" fill="#29798e" fill-opacity="0.5"/>
<path d="M1029.4,292.30L1084.6,292.30C1135.6,292.30 1135.6,167.23 1186.6,167.23L1241.8,167.23L1241.8,172.10L1186.6,172.10C1135.6,172.10 1135.6,298.80 1084.6,298.80L1029.4,298.80Z" fill="#29798e" fill-opacity="0.5"/>
<path d="M1029.4,303.40L1084.6,303.40C1135.6,303.40 1135.6,54.65 1186.6,54.65L1241.8,54.65L1241.8,59.33L1186.6,59.33C1135.6,59.33 1135.6,308.38 1084.6,308.38L1029.4,308.38Z" fill="#2f6c8e" fill-opacity="0.5"/>
<path d="M1029.4,308.38L1084.6,308.38C1135.6,308.38 1135.6,122.85 1186.6,122.85L1241.8,122.85L1241.8,127.52L1186.6,127.52C1135.6,127.52 1135.6,313.36 1084.6,313.36L1029.4,313.36Z" fill="#2f6c8e" fill-opacity="0.5"/>
<path d="M1029.4,313.36L1084.6,313.36C1135.6,313.36 1135.6,142.80 1186.6,142.80L1241.8,142.80L1241.8,147.90L1186.6,147.90C1135.6,147.90 1135.6,318.33 1084.6,318.33L1029.4,318.33Z" fill="#2f6c8e" fill-opacity="0.5"/>
<path d="M1029.4,318.33L1084.6,318.33C1135.6,318.33 1135.6,172.10 1186.6,172.10L1241.8,172.10L1241.8,176.97L1186.6,176.97C1135.6,176.97 1135.6,323.31 1084.6,323.31L1029.4,323.31Z" fill="#2f6c8e" fill-opacity="0.5"/>
<path d="M1029.4,323.31L1084.6,323.31C1135.6,323.31 1135.6,240.80 1186.6,240.80L1241.8,240.80L1241.8,245.70L1186.6,245.70C1135.6,245.70 1135.6,328.29 1084.6,328.29L1029.4,328.29Z" fill="#2f6c8e" fill-opacity="0.5"/>
<path d="M1029.4,328.29L1084.6,328.29C1135.6,328.29 1135.6,279.07 1186.6,279.07L1241.8,279.07L1241.8,284.13L1186.6,284.13C1135.6,284.13 1135.6,333.27 1084.6,333.27L1029.4,333.27Z" fill="#2f6c8e" fill-opacity="0.5"/>
<path d="M1029.4,333.27L1084.6,333.27C1135.6,333.27 1135.6,362.82 1186.6,362.82L1241.8,362.82L1241.8,367.65L1186.6,367.65C1135.6,367.65 1135.6,338.24 1084.6,338.24L1029.4,338.24Z" fill="#2f6c8e" fill-opacity="0.5"/>
<path d="M1029.4,338.24L1084.6,338.24C1135.6,338.24 1135.6,392.30 1186.6,392.30L1241.8,392.30L1241.8,397.45L1186.6,397.45C1135.6,397.45 1135.6,343.22 1084.6,343.22L1029.4,343.22Z" fill="#2f6c8e" fill-opacity="0.5"/>
<path d="M1029.4,343.22L1084.6,343.22C1135.6,343.22 1135.6,436.72 1186.6,436.72L1241.8,436.72L1241.8,441.76L1186.6,441.76C1135.6,441.76 1135.6,348.20 1084.6,348.20L1029.4,348.20Z" fill="#2f6c8e" fill-opacity="0.5"/>
<path d="M1029.4,352.80L1084.6,352.80C1135.6,352.80 1135.6,59.33 1186.6,59.33L1241.8,59.33L1241.8,64.00L1186.6,64.00C1135.6,64.00 1135.6,357.71 1084.6,357.71L1029.4,357.71Z" fill="#31668e" fill-opacity="0.5"/>
<path d="M1029.4,357.71L1084.6,357.71C1135.6,357.71 1135.6,127.52 1186.6,127.52L1241.8,127.52L1241.8,132.20L1186.6,132.20C1135.6,132.20 1135.6,362.62 1084.6,362.62L1029.4,362.62Z" fill="#31668e" fill-opacity="0.5"/>
<path d="M1029.4,362.62L1084.6,362.62C1135.6,362.62 1135.6,147.90 1186.6,147.90L1241.8,147.90L1241.8,153.00L1186.6,153.00C1135.6,153.00 1135.6,367.53 1084.6,367.53L1029.4,367.53Z" fill="#31668e" fill-opacity="0.5"/>
<path d="M1029.4,367.53L1084.6,367.53C1135.6,367.53 1135.6,176.97 1186.6,176.97L1241.8,176.97L1241.8,181.83L1186.6,181.83C1135.6,181.83 1135.6,372.44 1084.6,372.44L1029.4,372.44Z" fill="#31668e" fill-opacity="0.5"/>
<path d="M1029.4,372.44L1084.6,372.44C1135.6,372.44 1135.6,245.70 1186.6,245.70L1241.8,245.70L1241.8,250.60L1186.6,250.60C1135.6,250.60 1135.6,377.36 1084.6,377.36L1029.4,377.36Z" fill="#31668e" fill-opacity="0.5"/>
<path d="M1029.4,377.36L1084.6,377.36C1135.6,377.36 1135.6,284.13 1186.6,284.13L1241.8,284.13L1241.8,289.20L1186.6,289.20C1135.6,289.20 1135.6,382.27 1084.6,382.27L1029.4,382.27Z" fill="#31668e" fill-opacity="0.5"/>
<path d="M1029.4,382.27L1084.6,382.27C1135.6,382.27 1135.6,367.65 1186.6,367.65L1241.8,367.65L1241.8,372.48L1186.6,372.48C1135.6,372.48 1135.6,387.18 1084.6,387.18L1029.4,387.18Z" fill="#31668e" fill-opacity="0.5"/>
<path d="M1029.4,387.18L1084.6,387.18C1135.6,387.18 1135.6,397.45 1186.6,397.45L1241.8,397.45L1241.8,402.60L1186.6,402.60C1135.6,402.60 1135.6,392.09 1084.6,392.09L1029.4,392.09Z" fill="#31668e" fill-opacity="0.5"/>
<path d="M1029.4,392.09L1084.6,392.09C1135.6,392.09 1135.6,441.76 1186.6,441.76L1241.8,441.76L1241.8,446.80L1186.6,446.80C1135.6,446.80 1135.6,397.00 1084.6,397.00L1029.4,397.00Z" fill="#31668e" fill-opacity="0.5"/>
<path d="M1029.4,402.60L1084.6,402.60C1135.6,402.60 1135.6,308.86 1186.6,308.86L1241.8,308.86L1241.8,313.58L1186.6,313.58C1135.6,313.58 1135.6,407.50 1084.6,407.50L1029.4,407.50Z" fill="#355f8d" fill-opacity="0.5"/>
<path d="M1029.4,407.50L1084.6,407.50C1135.6,407.50 1135.6,372.48 1186.6,372.48L1241.8,372.48L1241.8,377.30L1186.6,377.30C1135.6,377.30 1135.6,412.40 1084.6,412.40L1029.4,412.40Z" fill="#355f8d" fill-opacity="0.5"/>
<path d="M1029.4,417.00L1084.6,417.00C1135.6,417.00 1135.6,181.83 1186.6,181.83L1241.8,181.83L1241.8,186.70L1186.6,186.70C1135.6,186.70 1135.6,421.88 1084.6,421.88L1029.4,421.88Z" fill="#472f7d" fill-opacity="0.5"/>
<path d="M1029.4,421.88L1084.6,421.88C1135.6,421.88 1135.6,220.83 1186.6,220.83L1241.8,220.83L1241.8,225.60L1186.6,225.60C1135.6,225.60 1135.6,426.75 1084.6,426.75L1029.4,426.75Z" fill="#472f7d" fill-opacity="0.5"/>
<path d="M1029.4,426.75L1084.6,426.75C1135.6,426.75 1135.6,265.80 1186.6,265.80L1241.8,265.80L1241.8,271.30L1186.6,271.30C1135.6,271.30 1135.6,431.62 1084.6,431.62L1029.4,431.62Z" fill="#472f7d" fill-opacity="0.5"/>
<path d="M1029.4,431.62L1084.6,431.62C1135.6,431.62 1135.6,313.58 1186.6,313.58L1241.8,313.58L1241.8,318.30L1186.6,318.30C1135.6,318.30 1135.6,436.50 1084.6,436.50L1029.4,436.50Z" fill="#472f7d" fill-opacity="0.5"/>
<path d="M1029.4,439.30L1084.6,439.30C1135.6,439.30 1135.6,412.00 1186.6,412.00L1241.8,412.00L1241.8,416.90L1186.6,416.90C1135.6,416.90 1135.6,449.10 1084.6,449.10L1029.4,449.10Z" fill="#481467" fill-opacity="0.5"/>
<path d="M1029.4,449.80L1084.6,449.80C1135.6,449.80 1135.6,328.70 1186.6,328.70L1241.8,328.70L1241.8,333.60L1186.6,333.60C1135.6,333.60 1135.6,458.30 1084.6,458.30L1029.4,458.30Z" fill="#460a5d" fill-opacity="0.5"/>
</g>
<rect x="1003.7" y="29.2" width="25.700000000000045" height="15.3" fill="#fde725" stroke="#2b2b2b" stroke-width="1.1"/>
<rect x="1003.7" y="48.7" width="25.700000000000045" height="10.9" fill="#dde318" stroke="#2b2b2b" stroke-width="1.1"/>
<rect x="1003.7" y="63.8" width="25.700000000000045" height="15.3" fill="#a5db36" stroke="#2b2b2b" stroke-width="1.1"/>
<rect x="1003.7" y="81.8" width="25.700000000000045" height="8.6" fill="#52c569" stroke="#2b2b2b" stroke-width="1.1"/>
<rect x="1003.7" y="92.3" width="25.700000000000045" height="7.6" fill="#38b977" stroke="#2b2b2b" stroke-width="1.1"/>
<rect x="1003.7" y="103.0" width="25.700000000000045" height="9.4" fill="#2fb47c" stroke="#2b2b2b" stroke-width="1.1"/>
<rect x="1003.7" y="116.9" width="25.700000000000045" height="36.1" fill="#27ad81" stroke="#2b2b2b" stroke-width="1.1"/>
<rect x="1003.7" y="156.8" width="25.700000000000045" height="64.4" fill="#22a785" stroke="#2b2b2b" stroke-width="1.1"/>
<rect x="1003.7" y="225.6" width="25.700000000000045" height="9.4" fill="#1fa188" stroke="#2b2b2b" stroke-width="1.1"/>
<rect x="1003.7" y="238.0" width="25.700000000000045" height="10.0" fill="#228d8d" stroke="#2b2b2b" stroke-width="1.1"/>
<rect x="1003.7" y="250.7" width="25.700000000000045" height="23.3" fill="#27808e" stroke="#2b2b2b" stroke-width="1.1"/>
<rect x="1003.7" y="279.3" width="25.700000000000045" height="19.5" fill="#29798e" stroke="#2b2b2b" stroke-width="1.1"/>
<rect x="1003.7" y="303.4" width="25.700000000000045" height="44.8" fill="#2f6c8e" stroke="#2b2b2b" stroke-width="1.1"/>
<rect x="1003.7" y="352.8" width="25.700000000000045" height="44.2" fill="#31668e" stroke="#2b2b2b" stroke-width="1.1"/>
<rect x="1003.7" y="402.6" width="25.700000000000045" height="9.8" fill="#355f8d" stroke="#2b2b2b" stroke-width="1.1"/>
<rect x="1003.7" y="417.0" width="25.700000000000045" height="19.5" fill="#472f7d" stroke="#2b2b2b" stroke-width="1.1"/>
<rect x="1003.7" y="439.3" width="25.700000000000045" height="9.8" fill="#481467" stroke="#2b2b2b" stroke-width="1.1"/>
<rect x="1003.7" y="449.8" width="25.700000000000045" height="8.5" fill="#460a5d" stroke="#2b2b2b" stroke-width="1.1"/>
<rect x="1241.8" y="24.0" width="25.299999999999955" height="15.8" fill="#efe51c" stroke="#2b2b2b" stroke-width="1.1"/>
<rect x="1241.8" y="45.3" width="25.299999999999955" height="18.7" fill="#cae11f" stroke="#2b2b2b" stroke-width="1.1"/>
<rect x="1241.8" y="68.8" width="25.299999999999955" height="21.2" fill="#b8de29" stroke="#2b2b2b" stroke-width="1.1"/>
<rect x="1241.8" y="93.7" width="25.299999999999955" height="15.3" fill="#93d741" stroke="#2b2b2b" stroke-width="1.1"/>
<rect x="1241.8" y="113.5" width="25.299999999999955" height="18.7" fill="#81d34d" stroke="#2b2b2b" stroke-width="1.1"/>
<rect x="1241.8" y="137.7" width="25.299999999999955" height="15.3" fill="#70cf57" stroke="#2b2b2b" stroke-width="1.1"/>
<rect x="1241.8" y="157.5" width="25.299999999999955" height="29.2" fill="#60ca60" stroke="#2b2b2b" stroke-width="1.1"/>
<rect x="1241.8" y="191.5" width="25.299999999999955" height="15.0" fill="#44bf70" stroke="#2b2b2b" stroke-width="1.1"/>
<rect x="1241.8" y="211.3" width="25.299999999999955" height="14.3" fill="#1f9a8a" stroke="#2b2b2b" stroke-width="1.1"/>
<rect x="1241.8" y="231.0" width="25.299999999999955" height="19.6" fill="#20938c" stroke="#2b2b2b" stroke-width="1.1"/>
<rect x="1241.8" y="254.8" width="25.299999999999955" height="16.5" fill="#24868e" stroke="#2b2b2b" stroke-width="1.1"/>
<rect x="1241.8" y="274.0" width="25.299999999999955" height="15.2" fill="#2c728e" stroke="#2b2b2b" stroke-width="1.1"/>
<rect x="1241.8" y="294.7" width="25.299999999999955" height="23.6" fill="#38588c" stroke="#2b2b2b" stroke-width="1.1"/>
<rect x="1241.8" y="325.1" width="25.299999999999955" height="7.2" fill="#3c508b" stroke="#2b2b2b" stroke-width="1.1"/>
<rect x="1241.8" y="337.4" width="25.299999999999955" height="16.6" fill="#3f4889" stroke="#2b2b2b" stroke-width="1.1"/>
<rect x="1241.8" y="358.0" width="25.299999999999955" height="19.3" fill="#424086" stroke="#2b2b2b" stroke-width="1.1"/>
<rect x="1241.8" y="382.0" width="25.299999999999955" height="20.6" fill="#453882" stroke="#2b2b2b" stroke-width="1.1"/>
<rect x="1241.8" y="408.4" width="25.299999999999955" height="7.2" fill="#482677" stroke="#2b2b2b" stroke-width="1.1"/>
<rect x="1241.8" y="421.6" width="25.299999999999955" height="25.2" fill="#481d6f" stroke="#2b2b2b" stroke-width="1.1"/>
<rect x="1241.8" y="452.4" width="25.299999999999955" height="7.2" fill="#440154" stroke="#2b2b2b" stroke-width="1.1"/>
<rect x="1001.7" y="32.0" width="29.7" height="9.8" rx="1.6" fill="#fde725"/>
<text x="1016.6" y="39.8" font-size="8.4" fill="#fff" text-anchor="middle">ZAP70</text>
<rect x="1005.7" y="48.0" width="21.7" height="12.3" rx="1.6" fill="#dde318"/>
<text x="1016.6" y="57.1" font-size="8.4" fill="#fff" text-anchor="middle">VDR</text>
<rect x="1003.1" y="66.5" width="26.9" height="9.8" rx="1.6" fill="#a5db36"/>
<text x="1016.6" y="74.4" font-size="8.4" fill="#fff" text-anchor="middle">SOD2</text>
<rect x="1000.8" y="81.1" width="31.5" height="10.0" rx="1.6" fill="#52c569"/>
<text x="1016.6" y="89.0" font-size="8.4" fill="#fff" text-anchor="middle">PDE4B</text>
<rect x="1002.6" y="91.6" width="27.8" height="9.0" rx="1.6" fill="#38b977"/>
<text x="1016.6" y="99.0" font-size="8.4" fill="#fff" text-anchor="middle">NR1I3</text>
<rect x="1003.1" y="102.3" width="26.9" height="10.8" rx="1.6" fill="#2fb47c"/>
<text x="1016.6" y="110.6" font-size="8.4" fill="#fff" text-anchor="middle">NOS2</text>
<rect x="1002.4" y="130.0" width="28.3" height="9.8" rx="1.6" fill="#27ad81"/>
<text x="1016.6" y="137.9" font-size="8.4" fill="#fff" text-anchor="middle">MMP9</text>
<rect x="998.0" y="184.1" width="37.1" height="9.8" rx="1.6" fill="#22a785"/>
<text x="1016.6" y="191.9" font-size="8.4" fill="#fff" text-anchor="middle">MAP2K1</text>
<rect x="1002.2" y="224.9" width="28.7" height="10.8" rx="1.6" fill="#1fa188"/>
<text x="1016.6" y="233.2" font-size="8.4" fill="#fff" text-anchor="middle">MAOB</text>
<rect x="1008.0" y="237.3" width="17.1" height="11.4" rx="1.6" fill="#228d8d"/>
<text x="1016.6" y="245.9" font-size="8.4" fill="#fff" text-anchor="middle">ITK</text>
<rect x="1004.5" y="257.5" width="24.1" height="9.8" rx="1.6" fill="#27808e"/>
<text x="1016.6" y="265.3" font-size="8.4" fill="#fff" text-anchor="middle">INSR</text>
<rect x="1008.7" y="284.2" width="15.7" height="9.8" rx="1.6" fill="#29798e"/>
<text x="1016.6" y="292.0" font-size="8.4" fill="#fff" text-anchor="middle">IL2</text>
<rect x="993.3" y="320.9" width="46.5" height="9.8" rx="1.6" fill="#2f6c8e"/>
<text x="1016.6" y="328.7" font-size="8.4" fill="#fff" text-anchor="middle">HSP90AB1</text>
<rect x="993.3" y="370.0" width="46.5" height="9.8" rx="1.6" fill="#31668e"/>
<text x="1016.6" y="377.8" font-size="8.4" fill="#fff" text-anchor="middle">HSP90AA1</text>
<rect x="999.6" y="401.9" width="33.9" height="11.2" rx="1.6" fill="#355f8d"/>
<text x="1016.6" y="410.4" font-size="8.4" fill="#fff" text-anchor="middle">HMOX1</text>
<rect x="1002.9" y="421.9" width="27.3" height="9.8" rx="1.6" fill="#472f7d"/>
<text x="1016.6" y="429.7" font-size="8.4" fill="#fff" text-anchor="middle">EIF4E</text>
<rect x="998.0" y="438.6" width="37.1" height="11.2" rx="1.6" fill="#481467"/>
<text x="1016.6" y="447.1" font-size="8.4" fill="#fff" text-anchor="middle">CDK5R1</text>
<rect x="1005.9" y="449.1" width="21.3" height="9.9" rx="1.6" fill="#460a5d"/>
<text x="1016.6" y="457.0" font-size="8.4" fill="#fff" text-anchor="middle">CBS</text>
<rect x="1221.3" y="27.6" width="66.2" height="9.6" rx="1.6" fill="#efe51c"/>
<text x="1254.4" y="35.3" font-size="8.27" fill="#fff" text-anchor="middle">Yersinia infection</text>
<rect x="1209.8" y="49.8" width="89.4" height="9.6" rx="1.6" fill="#cae11f"/>
<text x="1254.4" y="57.5" font-size="8.27" fill="#fff" text-anchor="middle">Th17 cell differentiation</text>
<rect x="1192.3" y="74.0" width="124.3" height="9.6" rx="1.6" fill="#b8de29"/>
<text x="1254.4" y="81.7" font-size="8.27" fill="#fff" text-anchor="middle">T cell receptor signaling pathway</text>
<rect x="1204.6" y="96.2" width="99.6" height="9.6" rx="1.6" fill="#93d741"/>
<text x="1254.4" y="103.9" font-size="8.27" fill="#fff" text-anchor="middle">Relaxin signaling pathway</text>
<rect x="1223.5" y="118.2" width="61.9" height="9.6" rx="1.6" fill="#81d34d"/>
<text x="1254.4" y="125.9" font-size="8.27" fill="#fff" text-anchor="middle">Prostate cancer</text>
<rect x="1174.2" y="140.3" width="160.5" height="9.6" rx="1.6" fill="#70cf57"/>
<text x="1254.4" y="148.0" font-size="8.27" fill="#fff" text-anchor="middle">Progesterone−mediated oocyte maturation</text>
<rect x="1201.1" y="167.7" width="106.7" height="9.6" rx="1.6" fill="#60ca60"/>
<text x="1254.4" y="175.4" font-size="8.27" fill="#fff" text-anchor="middle">PI3K−Akt signaling pathway</text>
<rect x="1156.2" y="194.2" width="196.6" height="9.6" rx="1.6" fill="#44bf70"/>
<text x="1254.4" y="201.9" font-size="8.27" fill="#fff" text-anchor="middle">Parathyroid hormone synthesis, secretion and action</text>
<rect x="1198.9" y="213.6" width="111.1" height="9.6" rx="1.6" fill="#1f9a8a"/>
<text x="1254.4" y="221.3" font-size="8.27" fill="#fff" text-anchor="middle">Longevity regulating pathway</text>
<rect x="1206.7" y="236.0" width="95.5" height="9.6" rx="1.6" fill="#20938c"/>
<text x="1254.4" y="243.7" font-size="8.27" fill="#fff" text-anchor="middle">Lipid and atherosclerosis</text>
<rect x="1206.5" y="257.9" width="95.9" height="9.6" rx="1.6" fill="#24868e"/>
<text x="1254.4" y="265.6" font-size="8.27" fill="#fff" text-anchor="middle">Insulin signaling pathway</text>
<rect x="1208.0" y="277.4" width="93.0" height="9.6" rx="1.6" fill="#2c728e"/>
<text x="1254.4" y="285.1" font-size="8.27" fill="#fff" text-anchor="middle">IL−17 signaling pathway</text>
<rect x="1207.1" y="301.7" width="94.8" height="9.6" rx="1.6" fill="#38588c"/>
<text x="1254.4" y="309.4" font-size="8.27" fill="#fff" text-anchor="middle">HIF−1 signaling pathway</text>
<rect x="1176.4" y="323.9" width="156.1" height="9.6" rx="1.6" fill="#3c508b"/>
<text x="1254.4" y="331.6" font-size="8.27" fill="#fff" text-anchor="middle">Glycine, serine and threonine metabolism</text>
<rect x="1208.3" y="341.1" width="92.3" height="9.6" rx="1.6" fill="#3f4889"/>
<text x="1254.4" y="348.8" font-size="8.27" fill="#fff" text-anchor="middle">FoxO signaling pathway</text>
<rect x="1182.8" y="363.0" width="143.3" height="9.6" rx="1.6" fill="#424086"/>
<text x="1254.4" y="370.7" font-size="8.27" fill="#fff" text-anchor="middle">Fluid shear stress and atherosclerosis</text>
<rect x="1201.9" y="387.6" width="105.1" height="9.6" rx="1.6" fill="#453882"/>
<text x="1254.4" y="395.3" font-size="8.27" fill="#fff" text-anchor="middle">Estrogen signaling pathway</text>
<rect x="1219.6" y="407.2" width="69.7" height="9.6" rx="1.6" fill="#482677"/>
<text x="1254.4" y="414.9" font-size="8.27" fill="#fff" text-anchor="middle">Cocaine addiction</text>
<rect x="1168.0" y="429.2" width="172.9" height="9.6" rx="1.6" fill="#481d6f"/>
<text x="1254.4" y="436.9" font-size="8.27" fill="#fff" text-anchor="middle">Chemical carcinogenesis − receptor activation</text>
<rect x="1224.6" y="451.2" width="59.6" height="9.6" rx="1.6" fill="#440154"/>
<text x="1254.4" y="458.9" font-size="8.27" fill="#fff" text-anchor="middle">Bladder cancer</text>
<rect x="498.0" y="3.0" width="262.20000000000005" height="479.3" fill="#fff"/>
<line x1="580.1" y1="3.0" x2="580.1" y2="482.3" stroke="#f0f0f0" stroke-width="0.6"/>
<line x1="666.1" y1="3.0" x2="666.1" y2="482.3" stroke="#f0f0f0" stroke-width="0.6"/>
<line x1="752.7" y1="3.0" x2="752.7" y2="482.3" stroke="#f0f0f0" stroke-width="0.6"/>
<line x1="537.4" y1="3.0" x2="537.4" y2="482.3" stroke="#e6e6e6" stroke-width="1.1"/>
<line x1="622.8" y1="3.0" x2="622.8" y2="482.3" stroke="#e6e6e6" stroke-width="1.1"/>
<line x1="709.4" y1="3.0" x2="709.4" y2="482.3" stroke="#e6e6e6" stroke-width="1.1"/>
<line x1="498.0" y1="14.3" x2="760.2" y2="14.3" stroke="#e6e6e6" stroke-width="1.1"/>
<line x1="498.0" y1="32.6" x2="760.2" y2="32.6" stroke="#e6e6e6" stroke-width="1.1"/>
<line x1="498.0" y1="50.9" x2="760.2" y2="50.9" stroke="#e6e6e6" stroke-width="1.1"/>
<line x1="498.0" y1="69.2" x2="760.2" y2="69.2" stroke="#e6e6e6" stroke-width="1.1"/>
<line x1="498.0" y1="87.5" x2="760.2" y2="87.5" stroke="#e6e6e6" stroke-width="1.1"/>
<line x1="498.0" y1="105.7" x2="760.2" y2="105.7" stroke="#e6e6e6" stroke-width="1.1"/>
<line x1="498.0" y1="124.0" x2="760.2" y2="124.0" stroke="#e6e6e6" stroke-width="1.1"/>
<line x1="498.0" y1="142.3" x2="760.2" y2="142.3" stroke="#e6e6e6" stroke-width="1.1"/>
<line x1="498.0" y1="160.6" x2="760.2" y2="160.6" stroke="#e6e6e6" stroke-width="1.1"/>
<line x1="498.0" y1="178.9" x2="760.2" y2="178.9" stroke="#e6e6e6" stroke-width="1.1"/>
<line x1="498.0" y1="197.2" x2="760.2" y2="197.2" stroke="#e6e6e6" stroke-width="1.1"/>
<line x1="498.0" y1="215.5" x2="760.2" y2="215.5" stroke="#e6e6e6" stroke-width="1.1"/>
<line x1="498.0" y1="233.8" x2="760.2" y2="233.8" stroke="#e6e6e6" stroke-width="1.1"/>
<line x1="498.0" y1="252.1" x2="760.2" y2="252.1" stroke="#e6e6e6" stroke-width="1.1"/>
<line x1="498.0" y1="270.4" x2="760.2" y2="270.4" stroke="#e6e6e6" stroke-width="1.1"/>
<line x1="498.0" y1="288.6" x2="760.2" y2="288.6" stroke="#e6e6e6" stroke-width="1.1"/>
<line x1="498.0" y1="306.9" x2="760.2" y2="306.9" stroke="#e6e6e6" stroke-width="1.1"/>
<line x1="498.0" y1="325.2" x2="760.2" y2="325.2" stroke="#e6e6e6" stroke-width="1.1"/>
<line x1="498.0" y1="343.5" x2="760.2" y2="343.5" stroke="#e6e6e6" stroke-width="1.1"/>
<line x1="498.0" y1="361.8" x2="760.2" y2="361.8" stroke="#e6e6e6" stroke-width="1.1"/>
<line x1="498.0" y1="380.1" x2="760.2" y2="380.1" stroke="#e6e6e6" stroke-width="1.1"/>
<line x1="498.0" y1="398.4" x2="760.2" y2="398.4" stroke="#e6e6e6" stroke-width="1.1"/>
<line x1="498.0" y1="416.7" x2="760.2" y2="416.7" stroke="#e6e6e6" stroke-width="1.1"/>
<line x1="498.0" y1="435.0" x2="760.2" y2="435.0" stroke="#e6e6e6" stroke-width="1.1"/>
<line x1="498.0" y1="453.3" x2="760.2" y2="453.3" stroke="#e6e6e6" stroke-width="1.1"/>
<line x1="498.0" y1="471.6" x2="760.2" y2="471.6" stroke="#e6e6e6" stroke-width="1.1"/>
<line x1="495.5" y1="14.3" x2="498.0" y2="14.3" stroke="#333" stroke-width="1"/>
<line x1="495.5" y1="32.6" x2="498.0" y2="32.6" stroke="#333" stroke-width="1"/>
<line x1="495.5" y1="50.9" x2="498.0" y2="50.9" stroke="#333" stroke-width="1"/>
<line x1="495.5" y1="69.2" x2="498.0" y2="69.2" stroke="#333" stroke-width="1"/>
<line x1="495.5" y1="87.5" x2="498.0" y2="87.5" stroke="#333" stroke-width="1"/>
<line x1="495.5" y1="105.7" x2="498.0" y2="105.7" stroke="#333" stroke-width="1"/>
<line x1="495.5" y1="124.0" x2="498.0" y2="124.0" stroke="#333" stroke-width="1"/>
<line x1="495.5" y1="142.3" x2="498.0" y2="142.3" stroke="#333" stroke-width="1"/>
<line x1="495.5" y1="160.6" x2="498.0" y2="160.6" stroke="#333" stroke-width="1"/>
<line x1="495.5" y1="178.9" x2="498.0" y2="178.9" stroke="#333" stroke-width="1"/>
<line x1="495.5" y1="197.2" x2="498.0" y2="197.2" stroke="#333" stroke-width="1"/>
<line x1="495.5" y1="215.5" x2="498.0" y2="215.5" stroke="#333" stroke-width="1"/>
<line x1="495.5" y1="233.8" x2="498.0" y2="233.8" stroke="#333" stroke-width="1"/>
<line x1="495.5" y1="252.1" x2="498.0" y2="252.1" stroke="#333" stroke-width="1"/>
<line x1="495.5" y1="270.4" x2="498.0" y2="270.4" stroke="#333" stroke-width="1"/>
<line x1="495.5" y1="288.6" x2="498.0" y2="288.6" stroke="#333" stroke-width="1"/>
<line x1="495.5" y1="306.9" x2="498.0" y2="306.9" stroke="#333" stroke-width="1"/>
<line x1="495.5" y1="325.2" x2="498.0" y2="325.2" stroke="#333" stroke-width="1"/>
<line x1="495.5" y1="343.5" x2="498.0" y2="343.5" stroke="#333" stroke-width="1"/>
<line x1="495.5" y1="361.8" x2="498.0" y2="361.8" stroke="#333" stroke-width="1"/>
<line x1="495.5" y1="380.1" x2="498.0" y2="380.1" stroke="#333" stroke-width="1"/>
<line x1="495.5" y1="398.4" x2="498.0" y2="398.4" stroke="#333" stroke-width="1"/>
<line x1="495.5" y1="416.7" x2="498.0" y2="416.7" stroke="#333" stroke-width="1"/>
<line x1="495.5" y1="435.0" x2="498.0" y2="435.0" stroke="#333" stroke-width="1"/>
<line x1="495.5" y1="453.3" x2="498.0" y2="453.3" stroke="#333" stroke-width="1"/>
<line x1="495.5" y1="471.6" x2="498.0" y2="471.6" stroke="#333" stroke-width="1"/>
<circle cx="688.6" cy="14.3" r="6.0" fill="#e08700"/>
<circle cx="748.5" cy="32.6" r="6.6" fill="#ea7100"/>
<circle cx="688.6" cy="50.9" r="6.0" fill="#c1b400"/>
<circle cx="510.1" cy="69.2" r="1.7" fill="#5bf200"/>
<circle cx="748.5" cy="87.5" r="6.6" fill="#ed6a00"/>
<circle cx="748.5" cy="105.7" r="6.6" fill="#ff0000"/>
<circle cx="569.8" cy="124.0" r="3.9" fill="#bbba00"/>
<circle cx="569.8" cy="142.3" r="3.9" fill="#50f600"/>
<circle cx="510.1" cy="160.6" r="1.7" fill="#5bf200"/>
<circle cx="628.9" cy="178.9" r="5.2" fill="#fb3300"/>
<circle cx="510.1" cy="197.2" r="1.7" fill="#41f900"/>
<circle cx="569.8" cy="215.5" r="3.9" fill="#49f700"/>
<circle cx="510.1" cy="233.8" r="1.7" fill="#41f900"/>
<circle cx="510.1" cy="252.1" r="1.7" fill="#38fa00"/>
<circle cx="569.8" cy="270.4" r="3.9" fill="#c2b200"/>
<circle cx="569.8" cy="288.6" r="3.9" fill="#84e200"/>
<circle cx="628.9" cy="306.9" r="5.2" fill="#90dc00"/>
<circle cx="569.8" cy="325.2" r="3.9" fill="#90dc00"/>
<circle cx="510.1" cy="343.5" r="1.7" fill="#41f900"/>
<circle cx="510.1" cy="361.8" r="1.7" fill="#41f900"/>
<circle cx="628.9" cy="380.1" r="5.2" fill="#cda500"/>
<circle cx="569.8" cy="398.4" r="3.9" fill="#41f900"/>
<circle cx="628.9" cy="416.7" r="5.2" fill="#9dd300"/>
<circle cx="569.8" cy="435.0" r="3.9" fill="#49f700"/>
<circle cx="628.9" cy="453.3" r="5.2" fill="#84e200"/>
<circle cx="569.8" cy="471.6" r="3.9" fill="#49f700"/>
<rect x="498.0" y="3.0" width="262.20000000000005" height="479.3" fill="none" stroke="#8a8a8a" stroke-width="1.3"/>
<line x1="537.4" y1="482.3" x2="537.4" y2="484.8" stroke="#333" stroke-width="1"/>
<text x="537.4" y="493.3" font-size="7.6" fill="#666" text-anchor="middle">0.05</text>
<line x1="622.8" y1="482.3" x2="622.8" y2="484.8" stroke="#333" stroke-width="1"/>
<text x="622.8" y="493.3" font-size="7.6" fill="#666" text-anchor="middle">0.10</text>
<line x1="709.4" y1="482.3" x2="709.4" y2="484.8" stroke="#333" stroke-width="1"/>
<text x="709.4" y="493.3" font-size="7.6" fill="#666" text-anchor="middle">0.15</text>
<text x="628.6" y="504.8" font-size="9.8" fill="#333" text-anchor="middle">GeneRatio</text>
<text x="775.3" y="148" font-size="10.1" fill="#222">&#8722;log10(pvalue)</text>
<defs><linearGradient id="gA" x1="0" y1="1" x2="0" y2="0"><stop offset="0.00" stop-color="#00ff00"/><stop offset="0.05" stop-color="#49f700"/><stop offset="0.10" stop-color="#65ef00"/><stop offset="0.15" stop-color="#7ae700"/><stop offset="0.20" stop-color="#8adf00"/><stop offset="0.25" stop-color="#98d700"/><stop offset="0.30" stop-color="#a4ce00"/><stop offset="0.35" stop-color="#aec600"/><stop offset="0.40" stop-color="#b8bd00"/><stop offset="0.45" stop-color="#c1b400"/><stop offset="0.50" stop-color="#c9ab00"/><stop offset="0.55" stop-color="#d0a100"/><stop offset="0.60" stop-color="#d79800"/><stop offset="0.65" stop-color="#dd8d00"/><stop offset="0.70" stop-color="#e38200"/><stop offset="0.75" stop-color="#e87600"/><stop offset="0.80" stop-color="#ed6a00"/><stop offset="0.85" stop-color="#f25b00"/><stop offset="0.90" stop-color="#f74a00"/><stop offset="0.95" stop-color="#fb3300"/><stop offset="1.00" stop-color="#ff0000"/></linearGradient></defs>
<rect x="775.3" y="154" width="16" height="79" fill="url(#gA)"/>
<line x1="775.3" y1="169.0" x2="778.3" y2="169.0" stroke="#fff" stroke-width="0.8"/><line x1="788.3" y1="169.0" x2="791.3" y2="169.0" stroke="#fff" stroke-width="0.8"/>
<text x="795.3" y="172.3" font-size="9" fill="#333">4</text>
<line x1="775.3" y1="193.2" x2="778.3" y2="193.2" stroke="#fff" stroke-width="0.8"/><line x1="788.3" y1="193.2" x2="791.3" y2="193.2" stroke="#fff" stroke-width="0.8"/>
<text x="795.3" y="196.5" font-size="9" fill="#333">3</text>
<line x1="775.3" y1="218.2" x2="778.3" y2="218.2" stroke="#fff" stroke-width="0.8"/><line x1="788.3" y1="218.2" x2="791.3" y2="218.2" stroke="#fff" stroke-width="0.8"/>
<text x="795.3" y="221.5" font-size="9" fill="#333">2</text>
<text x="775.3" y="262" font-size="10.3" fill="#222">Count</text>
<circle cx="783.5999999999999" cy="275.3" r="1.4" fill="#000"/>
<text x="795.3" y="278.6" font-size="9" fill="#333">1</text>
<circle cx="783.5999999999999" cy="291.5" r="4.3" fill="#000"/>
<text x="795.3" y="294.8" font-size="9" fill="#333">2</text>
<circle cx="783.5999999999999" cy="307.5" r="5.1" fill="#000"/>
<text x="795.3" y="310.8" font-size="9" fill="#333">3</text>
<circle cx="783.5999999999999" cy="323.3" r="5.9" fill="#000"/>
<text x="795.3" y="326.6" font-size="9" fill="#333">4</text>
<circle cx="783.5999999999999" cy="339.0" r="6.6" fill="#000"/>
<text x="795.3" y="342.3" font-size="9" fill="#333">5</text>
<rect x="1424.1" y="3.0" width="262.4000000000001" height="479.4" fill="#fff"/>
<line x1="1438.5" y1="3.0" x2="1438.5" y2="482.4" stroke="#f0f0f0" stroke-width="0.6"/>
<line x1="1518.0" y1="3.0" x2="1518.0" y2="482.4" stroke="#f0f0f0" stroke-width="0.6"/>
<line x1="1598.0" y1="3.0" x2="1598.0" y2="482.4" stroke="#f0f0f0" stroke-width="0.6"/>
<line x1="1678.8" y1="3.0" x2="1678.8" y2="482.4" stroke="#f0f0f0" stroke-width="0.6"/>
<line x1="1477.5" y1="3.0" x2="1477.5" y2="482.4" stroke="#e6e6e6" stroke-width="1.1"/>
<line x1="1557.8" y1="3.0" x2="1557.8" y2="482.4" stroke="#e6e6e6" stroke-width="1.1"/>
<line x1="1638.6" y1="3.0" x2="1638.6" y2="482.4" stroke="#e6e6e6" stroke-width="1.1"/>
<line x1="1424.1" y1="17.4" x2="1686.5" y2="17.4" stroke="#e6e6e6" stroke-width="1.1"/>
<line x1="1424.1" y1="41.1" x2="1686.5" y2="41.1" stroke="#e6e6e6" stroke-width="1.1"/>
<line x1="1424.1" y1="64.9" x2="1686.5" y2="64.9" stroke="#e6e6e6" stroke-width="1.1"/>
<line x1="1424.1" y1="88.7" x2="1686.5" y2="88.7" stroke="#e6e6e6" stroke-width="1.1"/>
<line x1="1424.1" y1="112.4" x2="1686.5" y2="112.4" stroke="#e6e6e6" stroke-width="1.1"/>
<line x1="1424.1" y1="136.2" x2="1686.5" y2="136.2" stroke="#e6e6e6" stroke-width="1.1"/>
<line x1="1424.1" y1="159.9" x2="1686.5" y2="159.9" stroke="#e6e6e6" stroke-width="1.1"/>
<line x1="1424.1" y1="183.7" x2="1686.5" y2="183.7" stroke="#e6e6e6" stroke-width="1.1"/>
<line x1="1424.1" y1="207.4" x2="1686.5" y2="207.4" stroke="#e6e6e6" stroke-width="1.1"/>
<line x1="1424.1" y1="231.2" x2="1686.5" y2="231.2" stroke="#e6e6e6" stroke-width="1.1"/>
<line x1="1424.1" y1="254.9" x2="1686.5" y2="254.9" stroke="#e6e6e6" stroke-width="1.1"/>
<line x1="1424.1" y1="278.6" x2="1686.5" y2="278.6" stroke="#e6e6e6" stroke-width="1.1"/>
<line x1="1424.1" y1="302.4" x2="1686.5" y2="302.4" stroke="#e6e6e6" stroke-width="1.1"/>
<line x1="1424.1" y1="326.1" x2="1686.5" y2="326.1" stroke="#e6e6e6" stroke-width="1.1"/>
<line x1="1424.1" y1="349.9" x2="1686.5" y2="349.9" stroke="#e6e6e6" stroke-width="1.1"/>
<line x1="1424.1" y1="373.6" x2="1686.5" y2="373.6" stroke="#e6e6e6" stroke-width="1.1"/>
<line x1="1424.1" y1="397.4" x2="1686.5" y2="397.4" stroke="#e6e6e6" stroke-width="1.1"/>
<line x1="1424.1" y1="421.1" x2="1686.5" y2="421.1" stroke="#e6e6e6" stroke-width="1.1"/>
<line x1="1424.1" y1="444.9" x2="1686.5" y2="444.9" stroke="#e6e6e6" stroke-width="1.1"/>
<line x1="1424.1" y1="468.6" x2="1686.5" y2="468.6" stroke="#e6e6e6" stroke-width="1.1"/>
<line x1="1421.6" y1="17.4" x2="1424.1" y2="17.4" stroke="#333" stroke-width="1"/>
<line x1="1421.6" y1="41.1" x2="1424.1" y2="41.1" stroke="#333" stroke-width="1"/>
<line x1="1421.6" y1="64.9" x2="1424.1" y2="64.9" stroke="#333" stroke-width="1"/>
<line x1="1421.6" y1="88.7" x2="1424.1" y2="88.7" stroke="#333" stroke-width="1"/>
<line x1="1421.6" y1="112.4" x2="1424.1" y2="112.4" stroke="#333" stroke-width="1"/>
<line x1="1421.6" y1="136.2" x2="1424.1" y2="136.2" stroke="#333" stroke-width="1"/>
<line x1="1421.6" y1="159.9" x2="1424.1" y2="159.9" stroke="#333" stroke-width="1"/>
<line x1="1421.6" y1="183.7" x2="1424.1" y2="183.7" stroke="#333" stroke-width="1"/>
<line x1="1421.6" y1="207.4" x2="1424.1" y2="207.4" stroke="#333" stroke-width="1"/>
<line x1="1421.6" y1="231.2" x2="1424.1" y2="231.2" stroke="#333" stroke-width="1"/>
<line x1="1421.6" y1="254.9" x2="1424.1" y2="254.9" stroke="#333" stroke-width="1"/>
<line x1="1421.6" y1="278.6" x2="1424.1" y2="278.6" stroke="#333" stroke-width="1"/>
<line x1="1421.6" y1="302.4" x2="1424.1" y2="302.4" stroke="#333" stroke-width="1"/>
<line x1="1421.6" y1="326.1" x2="1424.1" y2="326.1" stroke="#333" stroke-width="1"/>
<line x1="1421.6" y1="349.9" x2="1424.1" y2="349.9" stroke="#333" stroke-width="1"/>
<line x1="1421.6" y1="373.6" x2="1424.1" y2="373.6" stroke="#333" stroke-width="1"/>
<line x1="1421.6" y1="397.4" x2="1424.1" y2="397.4" stroke="#333" stroke-width="1"/>
<line x1="1421.6" y1="421.1" x2="1424.1" y2="421.1" stroke="#333" stroke-width="1"/>
<line x1="1421.6" y1="444.9" x2="1424.1" y2="444.9" stroke="#333" stroke-width="1"/>
<line x1="1421.6" y1="468.6" x2="1424.1" y2="468.6" stroke="#333" stroke-width="1"/>
<circle cx="1495.2" cy="17.4" r="4.4" fill="#38fa00"/>
<circle cx="1555.3" cy="41.1" r="5.3" fill="#da9100"/>
<circle cx="1555.3" cy="64.9" r="5.3" fill="#cca700"/>
<circle cx="1495.2" cy="88.7" r="4.4" fill="#41f900"/>
<circle cx="1555.3" cy="112.4" r="5.3" fill="#da9100"/>
<circle cx="1495.2" cy="136.2" r="4.4" fill="#65ef00"/>
<circle cx="1673.4" cy="159.9" r="6.7" fill="#c4b100"/>
<circle cx="1495.2" cy="183.7" r="4.4" fill="#50f600"/>
<circle cx="1495.2" cy="207.4" r="4.4" fill="#9ad500"/>
<circle cx="1555.3" cy="231.2" r="5.3" fill="#7de600"/>
<circle cx="1495.2" cy="254.9" r="4.4" fill="#49f700"/>
<circle cx="1495.2" cy="278.6" r="4.4" fill="#8adf00"/>
<circle cx="1614.5" cy="302.4" r="6.0" fill="#ff0000"/>
<circle cx="1436.0" cy="326.1" r="1.6" fill="#2efc00"/>
<circle cx="1495.2" cy="349.9" r="4.4" fill="#49f700"/>
<circle cx="1555.3" cy="373.6" r="5.3" fill="#c4b100"/>
<circle cx="1555.3" cy="397.4" r="5.3" fill="#bfb600"/>
<circle cx="1436.0" cy="421.1" r="1.6" fill="#2efc00"/>
<circle cx="1614.5" cy="444.9" r="6.0" fill="#cea300"/>
<circle cx="1436.0" cy="468.6" r="1.6" fill="#2efc00"/>
<rect x="1424.1" y="3.0" width="262.4000000000001" height="479.4" fill="none" stroke="#8a8a8a" stroke-width="1.3"/>
<line x1="1477.5" y1="482.4" x2="1477.5" y2="484.9" stroke="#333" stroke-width="1"/>
<text x="1477.5" y="493.4" font-size="7.6" fill="#666" text-anchor="middle">0.10</text>
<line x1="1557.8" y1="482.4" x2="1557.8" y2="484.9" stroke="#333" stroke-width="1"/>
<text x="1557.8" y="493.4" font-size="7.6" fill="#666" text-anchor="middle">0.15</text>
<line x1="1638.6" y1="482.4" x2="1638.6" y2="484.9" stroke="#333" stroke-width="1"/>
<text x="1638.6" y="493.4" font-size="7.6" fill="#666" text-anchor="middle">0.20</text>
<text x="1554.8" y="504.9" font-size="9.8" fill="#333" text-anchor="middle">GeneRatio</text>
<text x="1701.4" y="148" font-size="10.1" fill="#222">&#8722;log10(pvalue)</text>
<defs><linearGradient id="gB" x1="0" y1="1" x2="0" y2="0"><stop offset="0.00" stop-color="#00ff00"/><stop offset="0.05" stop-color="#49f700"/><stop offset="0.10" stop-color="#65ef00"/><stop offset="0.15" stop-color="#7ae700"/><stop offset="0.20" stop-color="#8adf00"/><stop offset="0.25" stop-color="#98d700"/><stop offset="0.30" stop-color="#a4ce00"/><stop offset="0.35" stop-color="#aec600"/><stop offset="0.40" stop-color="#b8bd00"/><stop offset="0.45" stop-color="#c1b400"/><stop offset="0.50" stop-color="#c9ab00"/><stop offset="0.55" stop-color="#d0a100"/><stop offset="0.60" stop-color="#d79800"/><stop offset="0.65" stop-color="#dd8d00"/><stop offset="0.70" stop-color="#e38200"/><stop offset="0.75" stop-color="#e87600"/><stop offset="0.80" stop-color="#ed6a00"/><stop offset="0.85" stop-color="#f25b00"/><stop offset="0.90" stop-color="#f74a00"/><stop offset="0.95" stop-color="#fb3300"/><stop offset="1.00" stop-color="#ff0000"/></linearGradient></defs>
<rect x="1701.4" y="154" width="16" height="79" fill="url(#gB)"/>
<line x1="1701.4" y1="178.2" x2="1704.4" y2="178.2" stroke="#fff" stroke-width="0.8"/><line x1="1714.4" y1="178.2" x2="1717.4" y2="178.2" stroke="#fff" stroke-width="0.8"/>
<text x="1721.4" y="181.5" font-size="9" fill="#333">4</text>
<line x1="1701.4" y1="206.3" x2="1704.4" y2="206.3" stroke="#fff" stroke-width="0.8"/><line x1="1714.4" y1="206.3" x2="1717.4" y2="206.3" stroke="#fff" stroke-width="0.8"/>
<text x="1721.4" y="209.60000000000002" font-size="9" fill="#333">3</text>
<text x="1701.4" y="262" font-size="10.3" fill="#222">Count</text>
<circle cx="1709.7" cy="275.3" r="1.7" fill="#000"/>
<text x="1721.4" y="278.6" font-size="9" fill="#333">2</text>
<circle cx="1709.7" cy="291.3" r="4.5" fill="#000"/>
<text x="1721.4" y="294.6" font-size="9" fill="#333">3</text>
<circle cx="1709.7" cy="307.2" r="5.4" fill="#000"/>
<text x="1721.4" y="310.5" font-size="9" fill="#333">4</text>
<circle cx="1709.7" cy="322.8" r="6.1" fill="#000"/>
<text x="1721.4" y="326.1" font-size="9" fill="#333">5</text>
<circle cx="1709.7" cy="338.7" r="6.8" fill="#000"/>
<text x="1721.4" y="342.0" font-size="9" fill="#333">6</text>
<g stroke="#b3b3b3" stroke-width="0.85" fill="none">
<line x1="302.6" y1="610.3" x2="250.9" y2="641.7"/>
<line x1="302.6" y1="610.3" x2="275.7" y2="1003.6"/>
<line x1="302.6" y1="610.3" x2="612.5" y2="798.8"/>
<line x1="250.9" y1="641.7" x2="391.0" y2="1035.9"/>
<line x1="250.9" y1="641.7" x2="553.2" y2="965.4"/>
<line x1="209.6" y1="685.9" x2="391.0" y2="1035.9"/>
<line x1="209.6" y1="685.9" x2="506.3" y2="1003.6"/>
<line x1="209.6" y1="685.9" x2="553.2" y2="965.4"/>
<line x1="181.8" y1="739.6" x2="608.4" y2="859.1"/>
<line x1="181.8" y1="739.6" x2="450.9" y2="1027.7"/>
<line x1="169.5" y1="798.8" x2="193.9" y2="916.0"/>
<line x1="169.5" y1="798.8" x2="450.9" y2="1027.7"/>
<line x1="169.5" y1="798.8" x2="391.0" y2="1035.9"/>
<line x1="173.6" y1="859.1" x2="506.3" y2="1003.6"/>
<line x1="173.6" y1="859.1" x2="391.0" y2="1035.9"/>
<line x1="193.9" y1="916.0" x2="391.0" y2="1035.9"/>
<line x1="228.8" y1="965.4" x2="450.9" y2="1027.7"/>
<line x1="228.8" y1="965.4" x2="391.0" y2="1035.9"/>
<line x1="331.1" y1="1027.7" x2="600.2" y2="739.6"/>
<line x1="360.8" y1="594.0" x2="479.4" y2="610.3"/>
<line x1="360.8" y1="594.0" x2="450.9" y2="1027.7"/>
<line x1="360.8" y1="594.0" x2="588.1" y2="916.0"/>
<line x1="421.2" y1="594.0" x2="391.0" y2="1035.9"/>
<line x1="421.2" y1="594.0" x2="553.2" y2="965.4"/>
<line x1="421.2" y1="594.0" x2="612.5" y2="798.8"/>
<line x1="421.2" y1="594.0" x2="531.1" y2="641.7"/>
<line x1="479.4" y1="610.3" x2="450.9" y2="1027.7"/>
<line x1="479.4" y1="610.3" x2="608.4" y2="859.1"/>
<line x1="479.4" y1="610.3" x2="588.1" y2="916.0"/>
<line x1="600.0" y1="633.2" x2="632.8" y2="696.2"/>
<line x1="531.1" y1="641.7" x2="588.1" y2="916.0"/>
<line x1="531.1" y1="641.7" x2="553.2" y2="965.4"/>
<line x1="531.1" y1="641.7" x2="506.3" y2="1003.6"/>
<line x1="531.1" y1="641.7" x2="450.9" y2="1027.7"/>
<line x1="531.1" y1="641.7" x2="391.0" y2="1035.9"/>
<line x1="572.4" y1="685.9" x2="600.2" y2="739.6"/>
<line x1="572.4" y1="685.9" x2="612.5" y2="798.8"/>
<line x1="572.4" y1="685.9" x2="608.4" y2="859.1"/>
<line x1="572.4" y1="685.9" x2="588.1" y2="916.0"/>
<line x1="572.4" y1="685.9" x2="553.2" y2="965.4"/>
<line x1="572.4" y1="685.9" x2="506.3" y2="1003.6"/>
<line x1="572.4" y1="685.9" x2="450.9" y2="1027.7"/>
<line x1="572.4" y1="685.9" x2="391.0" y2="1035.9"/>
<line x1="600.2" y1="739.6" x2="612.5" y2="798.8"/>
<line x1="600.2" y1="739.6" x2="608.4" y2="859.1"/>
<line x1="600.2" y1="739.6" x2="588.1" y2="916.0"/>
<line x1="600.2" y1="739.6" x2="553.2" y2="965.4"/>
<line x1="600.2" y1="739.6" x2="506.3" y2="1003.6"/>
<line x1="600.2" y1="739.6" x2="450.9" y2="1027.7"/>
<line x1="600.2" y1="739.6" x2="391.0" y2="1035.9"/>
<line x1="612.5" y1="798.8" x2="608.4" y2="859.1"/>
<line x1="612.5" y1="798.8" x2="588.1" y2="916.0"/>
<line x1="612.5" y1="798.8" x2="553.2" y2="965.4"/>
<line x1="612.5" y1="798.8" x2="506.3" y2="1003.6"/>
<line x1="612.5" y1="798.8" x2="450.9" y2="1027.7"/>
<line x1="612.5" y1="798.8" x2="391.0" y2="1035.9"/>
<line x1="608.4" y1="859.1" x2="588.1" y2="916.0"/>
<line x1="608.4" y1="859.1" x2="553.2" y2="965.4"/>
<line x1="608.4" y1="859.1" x2="506.3" y2="1003.6"/>
<line x1="608.4" y1="859.1" x2="450.9" y2="1027.7"/>
<line x1="608.4" y1="859.1" x2="391.0" y2="1035.9"/>
<line x1="588.1" y1="916.0" x2="553.2" y2="965.4"/>
<line x1="588.1" y1="916.0" x2="506.3" y2="1003.6"/>
<line x1="588.1" y1="916.0" x2="450.9" y2="1027.7"/>
<line x1="588.1" y1="916.0" x2="391.0" y2="1035.9"/>
<line x1="553.2" y1="965.4" x2="506.3" y2="1003.6"/>
<line x1="553.2" y1="965.4" x2="450.9" y2="1027.7"/>
<line x1="553.2" y1="965.4" x2="391.0" y2="1035.9"/>
<line x1="506.3" y1="1003.6" x2="450.9" y2="1027.7"/>
<line x1="506.3" y1="1003.6" x2="391.0" y2="1035.9"/>
<line x1="450.9" y1="1027.7" x2="391.0" y2="1035.9"/>
</g>
<line x1="181.8" y1="739.6" x2="600.2" y2="739.6" stroke="#dedede" stroke-width="2.4"/>
<circle cx="391.0" cy="1035.9" r="7.8" fill="#b3001e"/>
<circle cx="331.1" cy="1027.7" r="6.9" fill="#feeea8"/>
<circle cx="275.7" cy="1003.6" r="6.9" fill="#fee9a2"/>
<circle cx="228.8" cy="965.4" r="6.9" fill="#fee39a"/>
<circle cx="193.9" cy="916.0" r="6.9" fill="#fdd987"/>
<circle cx="173.6" cy="859.1" r="6.9" fill="#fdd886"/>
<circle cx="169.5" cy="798.8" r="6.9" fill="#fdd583"/>
<circle cx="181.8" cy="739.6" r="6.9" fill="#fdcf7e"/>
<circle cx="209.6" cy="685.9" r="6.9" fill="#fdce7c"/>
<circle cx="250.9" cy="641.7" r="6.9" fill="#fdcd7c"/>
<circle cx="302.6" cy="610.3" r="6.9" fill="#fdd07f"/>
<circle cx="360.8" cy="594.0" r="6.9" fill="#fdc676"/>
<circle cx="421.2" cy="594.0" r="6.9" fill="#fdc272"/>
<circle cx="479.4" cy="610.3" r="6.9" fill="#fcbb69"/>
<circle cx="531.1" cy="641.7" r="7.1" fill="#f99f4f"/>
<circle cx="572.4" cy="685.9" r="7.1" fill="#f6893a"/>
<circle cx="600.2" cy="739.6" r="7.2" fill="#f57f2f"/>
<circle cx="612.5" cy="798.8" r="7.2" fill="#f5812f"/>
<circle cx="608.4" cy="859.1" r="7.2" fill="#f0682a"/>
<circle cx="588.1" cy="916.0" r="7.2" fill="#ee602e"/>
<circle cx="553.2" cy="965.4" r="7.2" fill="#ea5528"/>
<circle cx="506.3" cy="1003.6" r="7.3" fill="#e9512a"/>
<circle cx="450.9" cy="1027.7" r="7.3" fill="#d5151d"/>
<circle cx="600.0" cy="633.2" r="6.9" fill="#fff3b2"/>
<circle cx="632.8" cy="696.2" r="6.9" fill="#fff3b2"/>
<text x="391.0" y="1038.8" font-size="8.3" fill="#333" text-anchor="middle">ALB</text>
<text x="331.1" y="1030.6" font-size="8.3" fill="#333" text-anchor="middle">DUSP6</text>
<text x="275.7" y="1006.5" font-size="8.3" fill="#333" text-anchor="middle">ACADM</text>
<text x="228.8" y="968.3" font-size="8.3" fill="#333" text-anchor="middle">TTR</text>
<text x="193.9" y="918.9" font-size="8.3" fill="#333" text-anchor="middle">CYP27B1</text>
<text x="173.6" y="862.0" font-size="8.3" fill="#333" text-anchor="middle">BMP2</text>
<text x="169.5" y="801.7" font-size="8.3" fill="#333" text-anchor="middle">NR1I3</text>
<text x="181.8" y="742.5" font-size="8.3" fill="#333" text-anchor="middle">EIF4E</text>
<text x="209.6" y="688.8" font-size="8.3" fill="#333" text-anchor="middle">HMGCR</text>
<text x="250.9" y="644.6" font-size="8.3" fill="#333" text-anchor="middle">MAOB</text>
<text x="302.6" y="613.2" font-size="8.3" fill="#333" text-anchor="middle">GLO1</text>
<text x="360.8" y="596.9" font-size="8.3" fill="#333" text-anchor="middle">ZAP70</text>
<text x="421.2" y="596.9" font-size="8.3" fill="#333" text-anchor="middle">CBS</text>
<text x="479.4" y="613.2" font-size="8.3" fill="#333" text-anchor="middle">ITK</text>
<text x="531.1" y="644.6" font-size="8.3" fill="#333" text-anchor="middle">NOS2</text>
<text x="572.4" y="688.8" font-size="8.3" fill="#333" text-anchor="middle">ANXA5</text>
<text x="600.2" y="742.5" font-size="8.3" fill="#333" text-anchor="middle">MAP2K1</text>
<text x="612.5" y="801.7" font-size="8.3" fill="#333" text-anchor="middle">SOD2</text>
<text x="608.4" y="862.0" font-size="8.3" fill="#333" text-anchor="middle">HSP90AB1</text>
<text x="588.1" y="918.9" font-size="8.3" fill="#333" text-anchor="middle">IL2</text>
<text x="553.2" y="968.3" font-size="8.3" fill="#333" text-anchor="middle">HMOX1</text>
<text x="506.3" y="1006.5" font-size="8.3" fill="#333" text-anchor="middle">MMP9</text>
<text x="450.9" y="1030.6" font-size="8.3" fill="#333" text-anchor="middle">HSP90AA1</text>
<text x="600.0" y="636.1" font-size="8.3" fill="#333" text-anchor="middle">PDE4B</text>
<text x="632.8" y="699.1" font-size="8.3" fill="#333" text-anchor="middle">DCK</text>
</svg></body></html>
